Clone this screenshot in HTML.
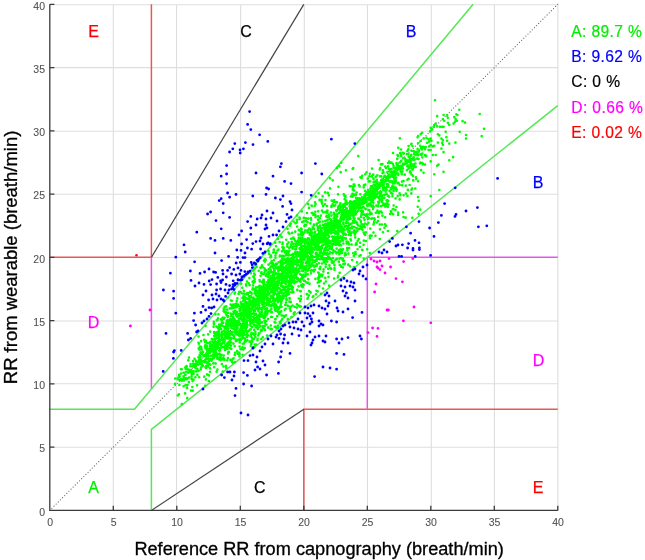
<!DOCTYPE html><html><head><meta charset="utf-8"><style>html,body{margin:0;padding:0;background:#fff;width:645px;height:560px;overflow:hidden}svg{display:block}text{font-family:"Liberation Sans",Arial,sans-serif}</style></head><body><svg width="645" height="560" viewBox="0 0 645 560"><rect width="645" height="560" fill="#fff"/><path d="M113.3 510.4V4.7M176.5 510.4V4.7M240.6 510.4V4.7M304.3 510.4V4.7M367.5 510.4V4.7M431.3 510.4V4.7M494.4 510.4V4.7M557.9 510.4V4.7M49.8 447.3H557.9M49.8 383.75H557.9M49.8 321H557.9M49.8 257.5H557.9M49.8 194.3H557.9M49.8 131.25H557.9M49.8 67.6H557.9M49.8 4.7H557.9" stroke="#dedede" stroke-width="1.1" fill="none"/><path d="M49.8 510.4L557.8 4.32" stroke="#6a6a6a" stroke-width="1.25" stroke-linecap="round" stroke-dasharray="0 3" fill="none"/><path d="M151.4 4.32L151.4 257.36L49.8 257.36" stroke="#ec5656" stroke-width="1.5" fill="none"/><path d="M303.8 510.4L303.8 409.18L557.8 409.18" stroke="#ec5656" stroke-width="1.5" fill="none"/><path d="M151.4 257.36L303.8 4.32" stroke="#444" stroke-width="1.2" fill="none"/><path d="M151.4 510.4L303.8 409.18" stroke="#444" stroke-width="1.2" fill="none"/><path d="M151.4 257.36L151.4 388.94" stroke="#e855e8" stroke-width="1.5" fill="none"/><path d="M367.3 409.18L367.3 257.36L557.8 257.36" stroke="#e855e8" stroke-width="1.5" fill="none"/><path d="M49.8 409.18L134.47 409.18L473.13 4.32" stroke="#55e855" stroke-width="1.5" fill="none"/><path d="M151.4 510.4L151.4 429.43L557.8 105.54" stroke="#55e855" stroke-width="1.5" fill="none"/><path d="M273.79 252.25h0M286.65 268.73h0M195.73 363.59h0M242.87 336.16h0M351.63 179.54h0M263.27 291.76h0M269.07 310.99h0M288.71 283.32h0M192.58 381.08h0M354.23 208.74h0M249.28 299.8h0M262.75 315.62h0M302.77 262.85h0M270.69 289.73h0M352.48 193.81h0M378.38 206.36h0M292.83 277.52h0M210.25 347.02h0M214.01 344.34h0M312.31 262.89h0M259.83 281.47h0M220.64 356.42h0M245.97 315.27h0M303.02 255.3h0M332.69 180.33h0M296.88 241.81h0M193.39 364.66h0M190.42 366.28h0M205.44 348.11h0M219.92 350.32h0M286.18 239.71h0M322.96 239.67h0M279.57 277.91h0M219.32 339.85h0M254.51 304.69h0M243.95 314.6h0M260.14 299.5h0M242.02 314.91h0M321.62 201.39h0M229.13 323.72h0M397.02 168.59h0M422.13 132.86h0M281.95 251.35h0M373.93 190.61h0M307.59 247.81h0M264.3 273.46h0M253.97 298.72h0M315.07 269.77h0M303.54 276.52h0M230.54 338.48h0M227.23 360.36h0M333.57 243.58h0M310.49 251.68h0M331.67 248.24h0M254.04 317.63h0M248.22 308.45h0M377.18 183.46h0M324.01 244.62h0M223.88 340.54h0M272.16 283.02h0M344.54 229.88h0M331.7 200.56h0M206.46 353.24h0M214.08 367.21h0M349.63 206.2h0M304.98 239.24h0M313.72 225.56h0M213.98 349.91h0M207.9 350.88h0M268 284.37h0M327.96 227.79h0M343.62 219.8h0M326.39 259.45h0M369.72 197.96h0M190.98 369.99h0M224.43 360.04h0M260.91 308.69h0M311.28 245.32h0M249.39 311.98h0M291.55 269.18h0M236.03 325.34h0M297.05 259.56h0M274.49 291.23h0M217.07 335.5h0M387.35 203.62h0M215.16 339.84h0M367.2 249.33h0M324.64 238.01h0M338.75 242.72h0M400.7 171.39h0M326.07 246.83h0M363.88 225.8h0M219.57 353.69h0M178.09 377.8h0M381.93 202.05h0M312.39 242.09h0M352.97 215.43h0M245.37 314.71h0M325.38 236.63h0M217.5 343.04h0M263.34 298.43h0M285.12 271.33h0M255.93 303.6h0M289.01 255.24h0M343.06 240.6h0M262.22 274h0M279.88 255.68h0M375.87 212.77h0M223.94 326.47h0M327.03 205.97h0M217.16 343.89h0M279.36 282.76h0M301.12 246.43h0M290.09 278.07h0M257.56 338.79h0M180.96 369.28h0M354.72 201.11h0M250.62 322.46h0M334.8 239.99h0M245.74 322.36h0M251.65 293.85h0M208.72 358.9h0M242.98 324.5h0M320.34 266.84h0M268.74 299.59h0M243.96 334.85h0M235.14 304.33h0M329.43 265.5h0M264.9 293.25h0M302.43 238.07h0M219.25 336.63h0M190.19 371h0M403.63 195.31h0M276.2 277.84h0M288.81 294.18h0M186.75 366.28h0M278.47 309.4h0M394.51 182.14h0M246.14 285.62h0M251.42 313.71h0M360.89 221.84h0M198.54 336.59h0M250.27 322.91h0M200.1 362.58h0M392.4 193.78h0M264.55 289.18h0M401.1 168.8h0M274.56 268.35h0M288.66 290.41h0M254.15 273.48h0M364.79 197.6h0M217.71 354.04h0M236.79 334.51h0M382.73 183.77h0M342.7 209.29h0M295.75 249.57h0M387.99 179.62h0M268.8 305.37h0M302.25 277.01h0M286.06 274.05h0M224.22 333.73h0M288.24 276.8h0M325.01 204.35h0M234.91 292.49h0M293.48 275.91h0M230.49 320.72h0M333.43 229.29h0M407.06 154.03h0M343.31 214.36h0M303.36 267.13h0M308.98 295.53h0M324.7 231.61h0M229.45 343.44h0M213.74 356.77h0M290.39 266.25h0M325.43 212.14h0M282.1 263.06h0M255.05 310.9h0M185.58 368.64h0M415.48 163.5h0M369.83 253.09h0M295.43 272.73h0M284.98 268.43h0M354.32 209.33h0M220.17 340.65h0M331.83 229.24h0M181.11 373.5h0M206.95 362.69h0M237.01 332.1h0M249.12 330.6h0M399.7 162.47h0M299.04 261.81h0M217.98 347.18h0M330.07 222.48h0M266.54 270.39h0M243.7 308.29h0M256.01 302.68h0M255.8 291.84h0M403.58 181.01h0M268.84 271.7h0M218.7 334.62h0M217.85 346.67h0M285.95 266.13h0M237.49 326.3h0M368.36 192.41h0M237.26 314h0M261.11 316.73h0M308.4 258.3h0M240.82 335.49h0M325.11 192.44h0M230.97 326.22h0M240.25 329.33h0M367.25 224.43h0M255.15 292.27h0M290.84 288.96h0M372.89 193.02h0M226.37 348.95h0M316.26 248.85h0M233.14 318.33h0M222.2 343.44h0M334.75 220.28h0M398.23 147.83h0M205.5 345.18h0M207.11 346.1h0M328.08 232.45h0M217.84 344.14h0M303.7 217.89h0M367.77 219.09h0M300.07 248.9h0M230.52 360.22h0M341.26 206.45h0M340.54 241.4h0M238.83 321.68h0M297.1 272.05h0M303.51 258.72h0M336.25 210.43h0M294.73 263.22h0M243.71 333.15h0M264.72 317.84h0M289.87 270.94h0M396.09 173.13h0M267.02 308.57h0M368.86 191.95h0M251.1 316.27h0M246.07 302.11h0M417.57 137.26h0M234.92 326.63h0M255.55 321.62h0M325.8 229.86h0M327.37 210.53h0M318.08 227.5h0M302.98 271.1h0M370.05 214.37h0M323.22 253.68h0M278.33 301.35h0M411.09 159.28h0M304.08 280.8h0M298.34 243.84h0M329.9 226.68h0M271.72 329.15h0M363.8 258.62h0M239.57 332.26h0M408.66 156.76h0M287.63 260.97h0M347.02 228.92h0M306.62 241.6h0M311.48 265.81h0M301.01 255.9h0M179.03 374.93h0M213.9 344.86h0M398.53 182.92h0M177.76 395.47h0M350.97 240.5h0M285.91 315.29h0M264.12 281.58h0M276.31 263.9h0M290.03 225.72h0M261.33 316.4h0M304.11 250.02h0M258.42 311.24h0M280.86 274.04h0M246.19 341.28h0M317.27 243.89h0M411.58 143.72h0M232.39 331.8h0M347.73 230.25h0M220.06 350.38h0M222.25 335.48h0M333.91 212.94h0M323.72 240.11h0M252.32 306.8h0M296.4 252.81h0M295.08 272.37h0M242.4 335.53h0M206.66 347.92h0M226.07 327.19h0M382.53 184.68h0M311.72 241.55h0M218.14 340.91h0M256.13 308.66h0M277.07 264.11h0M272.01 285.47h0M239.16 322.34h0M253.49 270.44h0M263.21 300.83h0M397.53 155.19h0M279.03 280.12h0M231.37 322.02h0M392.97 172.54h0M326.54 229.27h0M362.49 229.82h0M299.69 266.73h0M256.09 295.55h0M287.08 275.26h0M334.02 229.83h0M272.91 288.1h0M326.33 241.4h0M339.4 221.86h0M205.82 340.89h0M183.5 376.35h0M358.48 206.14h0M390.21 181.3h0M212.08 351.25h0M260.2 291.64h0M350.32 208.21h0M293.74 313.99h0M278.31 285.24h0M308.13 204.04h0M250.88 345.73h0M329.4 225.15h0M365.2 235.05h0M262.63 267.13h0M256.75 301.01h0M214.64 342.55h0M262.87 326.01h0M361.72 228.92h0M236.09 340.74h0M318.39 249.43h0M242.36 320.31h0M282.64 279.67h0M345.34 213.28h0M411.57 160.33h0M309.46 247.64h0M401.27 160.86h0M282.58 244.19h0M302.7 287.07h0M360.92 228.1h0M264.29 283.55h0M292.43 247.01h0M310.73 265.51h0M273.8 250.13h0M305.32 242.94h0M327.11 225.05h0M333.29 262.89h0M357.04 198.71h0M382.17 196.27h0M346.78 203.54h0M309.54 283.84h0M331.8 262.48h0M303.62 284.83h0M331.5 226.4h0M359.63 186.4h0M369.89 196.03h0M386.54 193.94h0M379.6 199.09h0M373.05 205.62h0M350.82 208.32h0M207.04 342.95h0M334.84 225.29h0M273.48 292.73h0M226.33 324.26h0M281.49 291.21h0M309.38 228.68h0M267.59 273.6h0M326.56 254.66h0M242.3 287.72h0M323.13 234.65h0M263.6 288.65h0M338.3 221.62h0M249.54 309.29h0M247.15 327.08h0M391.2 176.23h0M290.09 259.17h0M244.11 321.67h0M391.39 212.46h0M249.94 318.27h0M331.93 229.75h0M376.34 205.57h0M294.1 261.55h0M377.95 221.09h0M285.36 267.44h0M243.85 306.46h0M261.04 289.77h0M378.21 201.78h0M250.61 329.41h0M367.52 192.98h0M393.27 187.9h0M224.05 338.92h0M269.82 289.19h0M394.51 180.01h0M412.9 169.34h0M295.24 240.93h0M313.42 214.9h0M305.91 218.32h0M370.19 191.65h0M300.77 249.63h0M380.28 183.96h0M332.66 253.32h0M347.37 203.95h0M342.76 231.37h0M209.44 350.59h0M260.59 289.73h0M311.95 263.92h0M225.92 333.19h0M307.72 230.09h0M251.53 308.21h0M231.34 313.73h0M402.41 171.4h0M287.52 269.78h0M327.79 244.56h0M352.86 202.41h0M232.9 318.95h0M261.32 311.83h0M309.09 238.61h0M265.15 313.29h0M200.4 356.77h0M423.56 172.84h0M322.01 248.06h0M279.8 275.34h0M311.75 206.03h0M288.59 292.28h0M296.07 268.86h0M252.17 308.96h0M344.53 196.02h0M355.12 204.76h0M396.04 168.93h0M191.95 372.4h0M403.36 157.95h0M421.06 170.14h0M381.78 212.59h0M352.94 208.42h0M231.2 333.95h0M339.74 264.98h0M279.48 268.44h0M185.16 393.39h0M383.1 181.81h0M240.74 302.43h0M285.21 270.69h0M293.47 280.07h0M258.06 309.43h0M254.8 274.7h0M369.31 209.96h0M281.96 280.35h0M273.59 295.17h0M246.43 308.83h0M313.52 256.97h0M269.07 273.85h0M198.86 343.75h0M253.41 310.22h0M241.36 303.9h0M373.45 179.01h0M216.26 347.38h0M278.07 274.13h0M277.07 286.26h0M396.82 169.23h0M304.34 225.98h0M344.83 255.38h0M313.53 242.54h0M285.67 278.42h0M406.79 163.01h0M328.5 231.65h0M220.15 326.33h0M248.82 316.16h0M369.77 235.83h0M399.66 168.09h0M297.77 278.25h0M367 205.56h0M254.88 300.97h0M371.79 176.38h0M240.83 306.83h0M261.1 295.07h0M313.5 265.45h0M238.75 318.45h0M181.77 404.16h0M204.24 339.8h0M245.45 310.48h0M271.53 297.77h0M305.95 253.88h0M328.15 268.85h0M281.66 277.77h0M258.16 300h0M330.62 228.88h0M285.7 308.83h0M342.93 267.54h0M296.98 253.93h0M292.71 271.03h0M252.53 308.03h0M273.95 280.13h0M271.26 290.49h0M295.21 231.67h0M382.39 215.69h0M362.51 212.04h0M319.72 252.77h0M336.77 225.74h0M315.73 196.62h0M212.07 359.22h0M205.86 379.44h0M312.35 255.79h0M407.47 195.94h0M247.29 304.38h0M291.4 274.59h0M229.1 333.4h0M273.84 249.64h0M304.31 232.59h0M288.47 289.17h0M265 259.21h0M292.7 238.34h0M393.05 153.03h0M275.51 326.53h0M326.88 212.85h0M316.42 290.78h0M325.25 221h0M410.87 167.59h0M205.52 362.18h0M322.64 245.39h0M302.7 232.44h0M218.99 359.34h0M258.68 303.26h0M345.05 205.84h0M236.34 334.09h0M324.55 230.13h0M420.58 162.69h0M270.85 291.9h0M347.89 215.06h0M356.23 244.54h0M310.99 270.8h0M346.7 213.87h0M264.89 253.29h0M237.85 305.39h0M301.71 246.19h0M221.85 364.13h0M264.51 321.03h0M273.96 274.88h0M294.58 273.61h0M341.98 230.17h0M382.92 170.37h0M336.02 214.92h0M323.24 258.1h0M217.2 346.64h0M312.45 257.6h0M229.23 320.52h0M316.07 239.58h0M214.82 355.21h0M224.63 306.85h0M276.18 310.93h0M210.24 349.99h0M210.4 359.9h0M287.02 278.17h0M236.79 316.02h0M324.37 250.24h0M404.78 174.68h0M333.5 201.83h0M246.15 294.32h0M392.71 209.25h0M279.39 307.42h0M201.32 348.45h0M382.88 183.91h0M241.77 303.59h0M321.7 199.73h0M369.85 238.19h0M281.58 315.39h0M251.71 305.54h0M246.99 281.58h0M294.74 312.36h0M417.97 181.28h0M360.13 204.53h0M264.04 287.42h0M389.76 177.38h0M384.16 204.78h0M230.84 345.66h0M327.83 229.76h0M336.29 218.91h0M282.54 295.89h0M290.03 280.43h0M366.05 215.93h0M285.46 315.95h0M327.35 212.18h0M311.87 259.75h0M354.84 234.77h0M294.8 281.71h0M263.75 279.82h0M291.2 283.65h0M224.01 359.83h0M217.25 320.43h0M226.72 320.94h0M265.73 275.6h0M269.35 294h0M272.89 289.14h0M292.74 257.9h0M236.95 316.6h0M405.57 161.47h0M262.89 307.36h0M411.33 193.39h0M249.06 317.33h0M301.11 268h0M295.5 223.23h0M279.29 299.21h0M334.44 216.15h0M215.31 354.52h0M351.85 202.17h0M258.41 293.08h0M328.11 256.84h0M258.8 290.89h0M239.75 330.24h0M389.22 181.12h0M367.65 198.53h0M344.81 217.8h0M243.25 323.38h0M276 283.12h0M339.32 254.26h0M304.55 266.65h0M243.81 291.1h0M275.51 322.57h0M321.13 250.62h0M313.99 269.75h0M298.08 264.73h0M234.72 355.09h0M395.39 210.02h0M255.33 337.04h0M268.23 327.64h0M283.45 298.4h0M207.05 350.76h0M319.1 232.96h0M347.42 217.02h0M308.49 250.53h0M215.39 352.92h0M338.44 232.62h0M323.17 237.88h0M213.06 358.24h0M391.55 187.79h0M396.92 189.55h0M393.62 167.43h0M386.95 178.08h0M193.54 379.63h0M244.55 296.95h0M402.19 185.32h0M185.96 371.75h0M255.08 310.38h0M406.95 170.08h0M422.3 157.31h0M345.11 233.8h0M419.98 163.37h0M341.9 210.22h0M237.92 322.2h0M282.61 242.65h0M205.43 367.07h0M408.58 146.05h0M358.28 210.67h0M299.47 217.47h0M391.39 189.16h0M281.36 320.51h0M258.53 292.1h0M275.29 242.68h0M337.77 277.46h0M270.66 329.07h0M223.78 355.45h0M299.5 248.29h0M239.53 324.74h0M228.44 352.13h0M405.73 185.64h0M238.56 353.57h0M387.84 195.84h0M194.82 364.13h0M325.99 225.83h0M258.3 295.48h0M299.94 255.96h0M398.1 214.88h0M380.4 185.01h0M377.48 182.39h0M242.88 314.83h0M396.36 190.86h0M251.6 303.33h0M291.29 264.72h0M233.86 338.19h0M319.26 231.59h0M246.43 306h0M392.94 173.89h0M321.64 247.39h0M318.45 237.42h0M335.56 239.49h0M271.94 276.71h0M285.28 305h0M332.44 229.82h0M246.2 328.26h0M287.28 280.91h0M243.99 298.33h0M217.44 334.1h0M297.81 256.09h0M320.88 251.66h0M325.5 225.76h0M273.16 289.51h0M289.19 280.72h0M253.51 313.32h0M248.16 335.28h0M220.1 358.23h0M191.76 374.49h0M354.23 204.55h0M256.91 318.42h0M206.26 359.32h0M336.96 167.9h0M375.08 191.98h0M349.54 216.25h0M286.83 251.17h0M366.12 199.65h0M320.35 247.46h0M373.27 192h0M306.61 265.79h0M300 255.52h0M213.47 347.59h0M216.06 342.38h0M283.57 272.08h0M223.72 308.51h0M234.59 327.1h0M235.21 307.41h0M397.27 170.37h0M388.13 180.43h0M255.75 289.85h0M219.94 340.36h0M272.66 288.66h0M200.05 358.48h0M255.08 334.58h0M346.49 211.44h0M387.13 179.27h0M420.74 134.17h0M233.05 322.39h0M347.92 227.03h0M353.28 210.97h0M304.41 232.48h0M242.18 338.4h0M269.88 310.87h0M222.62 317.7h0M201.66 349.86h0M235.02 307.32h0M206.9 356.31h0M322.87 234.63h0M320.83 215.69h0M288.49 232.64h0M369.98 205.23h0M213.89 349.97h0M308.68 248.77h0M410.27 158.92h0M337.72 223.73h0M227.64 336.13h0M248.89 307.54h0M254.04 277.59h0M262.99 327.22h0M399.85 168.54h0M250.46 312.3h0M227.37 329.71h0M350.95 196.48h0M256.01 313.84h0M208.14 334.34h0M300.45 259.88h0M252.08 320.02h0M342.61 218.79h0M278.89 308.58h0M274.8 284.52h0M235.25 321.92h0M399.77 166.34h0M350.45 203.76h0M323.02 288.48h0M378.81 213.2h0M388.14 162.96h0M307.14 243.4h0M283.86 256.22h0M420.66 140.96h0M291.23 272.26h0M236.26 325.52h0M342.33 250.5h0M418.66 213.82h0M218.42 357.47h0M304.53 259.33h0M331.99 222.26h0M247.12 307.51h0M354.21 190.43h0M310.3 242.8h0M217.94 318.4h0M409.86 161.18h0M223.81 342.99h0M241.42 313.84h0M271.31 306.1h0M235.1 324.45h0M226.26 306.41h0M283.09 281.24h0M386.54 179.3h0M398.15 212.56h0M307.2 294.26h0M355.6 203.14h0M297.97 269.92h0M321.67 233.02h0M370.7 204.68h0M293.24 270.89h0M293.42 237.51h0M339.9 221.85h0M386.31 189.81h0M219.41 342.78h0M292.82 267.36h0M191.45 376.5h0M208.79 361.19h0M294.4 281.59h0M391.2 176.08h0M400.82 166.72h0M383.47 183.66h0M277.83 238.93h0M346.62 243.43h0M292.07 263.13h0M301.53 266.2h0M271.49 305.13h0M272.08 295.88h0M258.81 307.88h0M354.52 185.83h0M205.89 348.12h0M397.5 183.36h0M326.04 241.8h0M375.36 184.6h0M349.98 266.33h0M314.47 235.63h0M340.51 228.47h0M369.99 196.33h0M321.14 251.73h0M398.35 168.44h0M231.21 316.1h0M327.97 230.55h0M415.79 151.97h0M338.06 209.19h0M403.14 163.46h0M298.78 298.51h0M318.8 256.07h0M287.26 244.3h0M217.39 369.56h0M270.72 281.58h0M384.93 224.24h0M369.12 218.25h0M360.14 242.8h0M249.32 298.49h0M237.5 322.63h0M393.45 209.12h0M270.46 278.27h0M302.03 256.82h0M236.57 329.64h0M256.46 322.05h0M298.75 237.93h0M257.37 323.32h0M365.82 232.44h0M284.59 272.62h0M220.17 328.17h0M223.45 366.48h0M341.33 228.24h0M304.16 254.02h0M248.48 293.22h0M293.36 259.65h0M328.88 195.33h0M229.86 333.37h0M373.67 192.07h0M331.67 227.09h0M273.93 264.94h0M306.06 240.55h0M373.43 178.69h0M277.32 295.2h0M225.92 347.21h0M377.48 183.06h0M296.7 264.27h0M277.21 278.4h0M385.84 179.5h0M263.99 295.45h0M319.79 231.29h0M208.95 343.16h0M353.44 216.35h0M393.15 214.24h0M308.86 257.05h0M394.57 175.28h0M272.09 292.4h0M234.66 332.23h0M331.16 224.62h0M259.52 321h0M231.25 322.65h0M250.78 318.77h0M297.82 244.91h0M322.57 253.27h0M268.43 283.81h0M399.65 169.18h0M387.4 201.67h0M244.73 319.34h0M324.14 262.31h0M303.72 253.45h0M230.62 313.59h0M276.14 327.47h0M305.56 272.49h0M296.42 260.96h0M290.83 269.62h0M232.17 359.62h0M362.04 197.34h0M273.22 300.66h0M331.01 248.14h0M269.94 286.83h0M354.74 214.65h0M256.99 300.5h0M291.15 271.25h0M342.79 208.27h0M316.21 240.12h0M203 365.46h0M263.17 292.7h0M331.19 227.83h0M277.37 308h0M261.54 314.77h0M376.03 190.1h0M275.2 319.37h0M285.16 262.88h0M311.44 246.91h0M399.7 184.97h0M381.93 185.44h0M253.77 301.08h0M362.67 210.76h0M215.45 314.34h0M242.55 334.07h0M348.43 253.59h0M256.5 295.66h0M236.66 329.21h0M194.57 358.71h0M264.18 284.06h0M399.28 166.95h0M316.87 253.42h0M260.67 299.65h0M296 248.98h0M330.96 231.43h0M376.49 186.64h0M235.07 324.15h0M259.07 308.15h0M290.09 271.91h0M359.13 206.37h0M308.47 247.33h0M300.87 255.8h0M242.24 314.87h0M351.74 210.08h0M339.52 223.36h0M349.43 217.53h0M397.67 196.03h0M321.76 276.19h0M386.72 183.88h0M200.1 363.72h0M324.66 251.93h0M209.32 349.63h0M275.46 265.88h0M300.81 262.69h0M309.7 240.29h0M346.28 202.14h0M249.59 285.16h0M318.71 238.12h0M237.14 328.02h0M309.99 259.53h0M277.75 302.14h0M287.58 289.66h0M211.86 349.02h0M308.05 282.91h0M406.4 160h0M309.64 244.32h0M305 225.06h0M247.42 302.6h0M354.4 209.44h0M266.94 299.72h0M319.74 238.18h0M242.63 314.11h0M302.38 246.88h0M299.72 217.88h0M205.13 385.88h0M259.64 314.01h0M308.6 264.11h0M371.72 186.31h0M326.63 253.93h0M395.39 174.89h0M253.3 276.61h0M228.18 321.69h0M393.57 165.91h0M187.51 385.09h0M289.39 250.79h0M374.1 221.88h0M317.35 244.92h0M270.3 257.33h0M380.01 211.48h0M348.83 212.82h0M394.64 171.42h0M275.4 287.34h0M291.02 238.76h0M289.56 268.3h0M181.73 369.24h0M353.13 220.86h0M343.23 232.23h0M296.94 273.38h0M274.49 306.83h0M205.64 325.81h0M316.19 254.5h0M213.49 358h0M227.89 312.9h0M300.9 249.55h0M354.45 231.54h0M325.31 277.89h0M236.52 324.75h0M203.08 352.03h0M354.32 230.4h0M292.13 232.94h0M289.69 266.18h0M407.38 179.75h0M351.59 223.55h0M343.99 260.76h0M291.42 260.92h0M336.78 258.91h0M250.24 329.46h0M280.62 305.36h0M325.8 231.43h0M222.14 347.11h0M330.17 224.75h0M244.68 341.94h0M270.62 266.74h0M258.97 317.95h0M409.78 165.6h0M317.7 226.58h0M207 349.07h0M405.65 161.63h0M199.91 346.59h0M312.44 260.29h0M248.65 304.1h0M389.21 196.77h0M264.29 290.48h0M261.06 272.74h0M321.98 210.65h0M253.06 314.02h0M328.54 276.91h0M322.15 203.56h0M377.13 194.14h0M318.14 211.32h0M289.27 271.65h0M398.91 169.19h0M301.71 229.43h0M286.61 294.94h0M311.71 251.95h0M282.14 265.93h0M341.07 230.23h0M271.2 276.46h0M237.88 325.1h0M280.54 275.85h0M309.99 233.17h0M187.34 378.69h0M267.06 335.54h0M375.36 195.85h0M260.06 300.71h0M281.08 265.57h0M375.27 181.67h0M380.85 164.32h0M205.04 355.09h0M310.92 256.63h0M395.18 177.52h0M396.49 206.95h0M293.59 246.27h0M238.26 321.42h0M241.29 334.67h0M253.86 339.12h0M237.57 353.67h0M398.24 174.87h0M281.36 267.93h0M227.42 333.41h0M203.9 360.96h0M257.26 319.44h0M272.92 286.27h0M257.95 305.02h0M287.12 273.98h0M311.39 236.18h0M275.55 305.36h0M361.22 201.67h0M389.58 181.63h0M327.42 246.32h0M392.79 186.96h0M210.44 343.7h0M241.1 303.86h0M296.58 242.97h0M235.82 341.09h0M358.9 185h0M396.54 163.16h0M300.45 251.26h0M341.8 228.07h0M382.42 164.16h0M309.04 291.13h0M258.84 303.84h0M401.62 167.49h0M353.45 211.14h0M303.08 259.35h0M325.77 264.21h0M303.33 260.02h0M315.57 217.14h0M240.4 330.31h0M270.51 267.47h0M323.12 225.01h0M266.96 313.39h0M412.62 164.46h0M238.85 323.62h0M350.24 228.42h0M346.67 214.37h0M305.45 250.83h0M396 173.12h0M356.15 198.16h0M317.24 242.05h0M248.35 302.49h0M315.4 246.48h0M319.78 259.35h0M363.76 232.51h0M211.68 346.11h0M350.34 212.87h0M395.58 198.43h0M360.53 220.51h0M279.55 296.94h0M346.52 241.52h0M258.98 303.24h0M233.38 317.04h0M276.37 327.88h0M296.1 244.73h0M305.03 243.48h0M383.85 186.79h0M284.77 286.75h0M228.68 335.91h0M341.26 238.17h0M254.13 301.99h0M343.3 223.8h0M280.7 255.72h0M375.24 190.65h0M336.63 211.27h0M306.32 254.24h0M252.96 321.75h0M374.97 198.3h0M235.38 312.48h0M260.96 296.93h0M362.47 203.92h0M308.26 245.41h0M376.2 187.05h0M227.77 346.64h0M318.19 237.51h0M218.24 326.97h0M221.99 333.28h0M215.38 339.32h0M343.73 215.44h0M420.18 145.76h0M338.92 261.63h0M210.39 345.31h0M299.5 271.47h0M271.78 304.76h0M279.77 323.2h0M315.83 253.54h0M282.83 266.91h0M344.92 210.16h0M268.05 311.14h0M344.52 225.7h0M190.15 371.37h0M413.65 157.37h0M336.38 253.33h0M296.57 246.8h0M383.38 203.49h0M323.86 227.68h0M312.76 297.09h0M373.61 185.05h0M273.19 267.61h0M310.85 218.21h0M280.85 292.89h0M197.39 374.91h0M242.38 347.23h0M258.37 309.7h0M346.7 208.37h0M316.83 265.68h0M231.46 320.9h0M324.35 241.16h0M208.45 375.08h0M281.6 274.18h0M268.1 327.54h0M288.97 264.41h0M255.33 308.73h0M253.17 339.08h0M252.5 270.62h0M281.33 266.49h0M315.27 211.82h0M258.75 327.23h0M346.04 217.3h0M339.32 226.87h0M231.14 332.09h0M214.79 345.16h0M227.89 358.06h0M247.14 337.08h0M238.6 305.71h0M309.24 247.31h0M271.34 309.16h0M273.85 277.82h0M313.46 248.29h0M319.48 268.75h0M316.75 235.34h0M275.24 288.34h0M294.59 278.35h0M236.76 300.81h0M320.7 230.98h0M284.23 263.12h0M255.09 305.86h0M294.29 257.61h0M309 207.89h0M389.45 190.83h0M368.09 193.85h0M281.49 306.91h0M417.59 148.99h0M246.37 303.69h0M243.8 308.23h0M334.12 228.61h0M301.33 239.23h0M350.44 239.22h0M197.87 361.46h0M363.51 199.43h0M244.16 317.68h0M255.45 299.62h0M267.15 282.27h0M370.19 228.56h0M286.87 269.92h0M208.64 364.09h0M214.53 339.48h0M291.72 269.08h0M254.16 319.04h0M273.86 271.98h0M237.37 298.24h0M346.75 212.25h0M364.27 234.04h0M195.41 377.25h0M227.07 322.62h0M350.73 235.25h0M291.58 262.71h0M259.68 285.73h0M335.52 220.35h0M226.32 323.22h0M201.22 364.22h0M359.03 208.51h0M248.13 331.2h0M295.84 243.88h0M407.84 189.93h0M414.43 154.35h0M324.65 259.59h0M284.12 290.03h0M195.95 365.85h0M281.26 286.16h0M282.37 267.85h0M325.85 232.18h0M287.64 268.19h0M371.54 201.54h0M353.17 207.81h0M289.13 263.22h0M258.96 309.17h0M257.53 287.29h0M418.84 151.43h0M418.02 197.07h0M319.22 228.01h0M253.49 301.5h0M321.87 238.12h0M357.01 211.84h0M224.88 349.6h0M315.7 247.09h0M329.82 253.47h0M314.5 242.27h0M304.43 255.67h0M188.91 382.04h0M283.3 259.72h0M332.8 244.71h0M274.89 310.29h0M211.25 350.56h0M319.54 199.92h0M210.63 359.01h0M255.46 299.57h0M347.07 248.08h0M360.7 227.08h0M242.67 318.96h0M207.1 374.46h0M247.6 324.78h0M287.52 228.85h0M229.94 332.21h0M319.74 255.38h0M317.87 244.13h0M252.93 305.06h0M327.79 219.75h0M382.96 188.65h0M286.44 299.84h0M354.16 211.1h0M370.94 192.9h0M318.36 278.97h0M324.16 232.98h0M235.05 352.86h0M408.59 161.04h0M374.78 219.53h0M359.25 203.47h0M224.82 309.22h0M422.35 163.04h0M390.81 211.22h0M230.1 340.51h0M325.48 200.11h0M339.99 204.99h0M274.59 322.36h0M303.46 255.61h0M222.77 317.84h0M365.08 196.72h0M334.63 214.23h0M331.35 226.16h0M292.29 271.48h0M375.2 189.68h0M256.44 319.76h0M252.49 289.55h0M384.98 180.43h0M327.12 252.82h0M380.25 168.03h0M259.26 324.94h0M284.68 259.28h0M286.08 296.16h0M304.96 268.69h0M274.63 326.8h0M197.09 385.36h0M286.09 259.88h0M401.31 156.09h0M229.09 321.23h0M263.6 317.98h0M309.47 265.44h0M259.49 297.78h0M329.99 228.89h0M219.15 341.36h0M302.82 275.24h0M260.54 291.56h0M282.23 269.06h0M382.21 200.28h0M271.83 278.59h0M380.07 200.29h0M345.47 197.41h0M306.13 251.01h0M230.63 325.35h0M249.79 319.03h0M306.01 274.56h0M286.29 273.13h0M370.63 188.57h0M288.6 283.86h0M181.8 380.79h0M364.69 197.97h0M258.71 270.84h0M264.61 292.92h0M373.32 202.73h0M335 225.44h0M369.1 194.29h0M208.9 375.52h0M303.44 249.26h0M280.94 261.74h0M290.57 306.92h0M235.8 305.16h0M179.53 376.69h0M320.53 239.74h0M241.59 326.01h0M265.04 315.61h0M254.64 279.16h0M313.95 260.54h0M375.44 190.18h0M317.09 243.18h0M243.42 335.59h0M357.5 249.22h0M330.25 252.41h0M341.14 216.83h0M231.64 326.83h0M267.13 303.4h0M322.71 235.88h0M377.77 187.18h0M237.79 325.52h0M333.23 239.17h0M268.42 293.26h0M245.94 334.77h0M269.37 299.96h0M230.5 326.53h0M302.39 264.04h0M259.6 319.78h0M379.27 186.6h0M223.75 310.48h0M284.15 278.32h0M280.63 260.73h0M336.19 233.41h0M241.91 349.27h0M330.29 219.35h0M388.18 200.91h0M266.67 298.58h0M368.44 222.8h0M320.81 231.1h0M331.07 233.5h0M245.44 308.55h0M256.9 290.58h0M326.43 244.76h0M385.28 166.64h0M297.27 262.13h0M331.02 212.47h0M317.93 242.25h0M312.67 252.16h0M383.52 185.25h0M233.2 323.09h0M336.22 219.89h0M386.52 200.47h0M274.19 271.38h0M320.26 235.89h0M312.51 213.04h0M363.93 185.33h0M254.07 318.46h0M386.06 178.58h0M381.08 211.57h0M256.87 322.17h0M260.97 296.46h0M267.6 299.89h0M328.67 256.81h0M221.77 336.71h0M202.19 354.19h0M266.41 324.46h0M242.28 305.69h0M372.9 192.68h0M380.92 185.51h0M365.29 174.21h0M355.75 244.66h0M332.93 232.53h0M334.33 221.45h0M353.56 204.91h0M383.26 187.36h0M270.64 305.22h0M399.87 138.35h0M289.62 282.62h0M281.91 263.27h0M409.8 158.94h0M278.83 281.93h0M300.59 265.46h0M255.37 303.57h0M342.81 258.69h0M218.77 330.27h0M229.49 335.69h0M232.15 333.23h0M341.48 215h0M187.21 398.12h0M235.36 326.44h0M253.3 319.77h0M387.73 207.04h0M333.78 261.82h0M301.46 275.06h0M242.24 293.45h0M280.59 323.32h0M298.63 261.07h0M405.66 217.65h0M352.75 204.59h0M252.56 281.81h0M338.43 240.09h0M238.45 339.56h0M376.34 188.46h0M422.82 164.15h0M183.62 379.75h0M298.67 305.48h0M188.99 357.62h0M413.26 180.42h0M253.11 285.39h0M290.62 310.91h0M296.93 219.93h0M291.43 271.76h0M233.44 328.86h0M401.11 149.51h0M311.91 235.45h0M412.92 175.88h0M385.52 191.42h0M381.03 194.27h0M197.2 362.91h0M392.85 187.52h0M278.46 249.53h0M284.05 293.37h0M335.96 225.06h0M342.94 237.86h0M193.45 373.96h0M307.97 241.69h0M244.43 311.98h0M323.91 239.22h0M282.37 269.15h0M327.75 235.15h0M243.34 349.47h0M326.7 216.15h0M333.8 213.9h0M320.93 239.06h0M256.17 302.96h0M247.39 317.1h0M421.98 149.43h0M248.97 296.44h0M214.35 333.33h0M319.43 277.29h0M237.78 334.67h0M333.57 244.25h0M270.98 255.53h0M306.88 243.16h0M242.61 337.82h0M346.08 217.16h0M308.47 269.85h0M392.88 172.05h0M275.63 319.12h0M258.55 286.45h0M336.3 243.46h0M387.94 230.97h0M335.03 225.94h0M330.44 232.05h0M294.38 283.32h0M348.86 234.85h0M291.54 316.97h0M287.78 268.92h0M262.19 329.51h0M328.86 225.16h0M349.91 211.66h0M354.69 210.36h0M373.9 189.93h0M365.66 209.13h0M244.94 300h0M313.99 245.22h0M366.99 192.79h0M264.45 268.3h0M213.94 354.9h0M310.95 241.23h0M182.3 379.5h0M215.39 348.74h0M217.33 358.72h0M242.18 329.35h0M318.47 239.88h0M303.98 255.6h0M293.43 292.17h0M283.45 315.77h0M381.07 180.29h0M321.1 293.78h0M323.18 237.59h0M277.16 290.83h0M282.23 319.02h0M303.7 221.41h0M241.14 334.23h0M286.14 260.34h0M228.79 333.96h0M357.86 228.73h0M287.86 258.25h0M292.88 271.76h0M285.75 284.11h0M371.64 187.23h0M327.69 245.45h0M311.69 239.76h0M351.05 213.6h0M343.77 194.24h0M363.68 187.39h0M300.93 299.19h0M269.71 284.83h0M227.1 329.11h0M370.97 193.79h0M352.43 211.08h0M386.51 180.71h0M282.41 274.05h0M353.81 256.03h0M298.97 261.5h0M280.17 278.47h0M416.92 151.8h0M261.56 272.29h0M231.89 306.66h0M242.25 331.8h0M295.33 246.28h0M315.71 253.67h0M324.04 226.59h0M332.23 231.92h0M251.37 321.1h0M325.92 261.41h0M210.38 364.6h0M318.68 222.57h0M273.02 298.42h0M312.69 238.6h0M329.42 265.21h0M276.67 310.78h0M241.72 313.44h0M314.21 235.55h0M336.61 222.53h0M297.45 261.59h0M224.54 341.63h0M322.7 235.87h0M308.39 279.28h0M269.26 275.22h0M386.62 189.77h0M357.24 198.26h0M289.88 308.67h0M375.6 191.22h0M203.52 361.94h0M301.9 286.37h0M305.35 247.13h0M379.08 196.56h0M323.6 269.29h0M341.94 237.27h0M374.26 218.34h0M188.29 360.4h0M234.62 293.56h0M388.19 184.35h0M225.45 344.94h0M320.07 225.62h0M372.03 168.61h0M343.05 249.28h0M364.24 200.62h0M263.92 298.44h0M407.73 160.46h0M334.4 225.42h0M348.64 219.58h0M344.87 226.66h0M387.76 178.3h0M316.04 237.67h0M271.67 312.18h0M347.49 211.34h0M249.4 320.85h0M240.87 309.22h0M226.76 347.49h0M295.88 274.54h0M384.28 182.16h0M357.44 206.75h0M296.76 271.73h0M335.17 221.02h0M356.52 228.4h0M310.33 223.31h0M200.98 346.8h0M298.67 244.44h0M305.98 246.6h0M253.09 307.25h0M392.04 187.44h0M306.17 255.27h0M349.52 228.33h0M341.77 237.83h0M192.73 390.67h0M293.95 313.03h0M223.64 311.08h0M416.31 178.97h0M275.44 282.4h0M253.06 300.25h0M310.77 250.62h0M338.26 275.8h0M220.28 348.51h0M263.23 273.97h0M366.73 192.33h0M260.75 295.63h0M350.73 223.94h0M321.72 231.8h0M294.35 281.04h0M208.91 381.02h0M254.88 320.3h0M280.04 296.04h0M317.65 291.43h0M228.62 321.56h0M279.1 312.03h0M348.36 242.29h0M373.53 232.5h0M388.21 186.86h0M307.9 238.21h0M357.02 262.39h0M251.28 334.27h0M300.47 281.68h0M309.93 229.16h0M319.7 241.76h0M265.2 295.22h0M418.98 150.44h0M359.88 246.72h0M326.66 238.62h0M375.17 191.91h0M329.6 241.09h0M275.82 263.83h0M335.43 218.49h0M395.62 187.57h0M317.78 258.81h0M248.22 316.47h0M385.15 206.58h0M263.63 328.3h0M331.58 249.23h0M308.44 248.73h0M324.9 237.19h0M246.17 327.88h0M250.03 291.94h0M384.1 181.32h0M405.14 163.97h0M339.84 205.74h0M244.67 309.34h0M310.59 292.57h0M268.47 264.61h0M277.18 277.36h0M388.53 196.12h0M286 273.56h0M321.83 258.82h0M330.41 267.74h0M307.64 248.31h0M352.78 189.73h0M345.95 223.01h0M412.35 169.35h0M412.51 146.12h0M335.18 251.62h0M228.99 337.94h0M369.24 203.66h0M355.46 251.95h0M373.19 174.65h0M379.77 169.39h0M363.13 201.52h0M307.68 270.78h0M249.27 306.08h0M247.18 324.7h0M392.49 185.98h0M239.71 342.54h0M340.55 218.63h0M245.2 325.78h0M287.74 289.24h0M361.11 204.2h0M308.55 262.59h0M288.22 273.83h0M221.62 333.76h0M346.25 208.93h0M308.53 263.84h0M304.21 256.88h0M338.21 223.71h0M253.87 302.33h0M265.02 329.88h0M250.24 323.36h0M282.35 298.68h0M268.05 289.98h0M187.62 369.43h0M356.57 192.5h0M307.81 259.78h0M340.49 249.42h0M233.03 304.51h0M411.61 150.75h0M191.63 378.87h0M282.28 297.64h0M261.61 302.5h0M286.47 255.08h0M277.95 273.49h0M201.12 359.63h0M258.59 315.22h0M307.49 269.44h0M258.6 287.37h0M349.53 231.41h0M260.37 323.01h0M262.18 281.89h0M255.18 318.25h0M175.22 378.46h0M364.45 195.18h0M225.92 365.85h0M277.5 296.57h0M278.27 312.28h0M292.5 289.89h0M245.74 303.16h0M265.71 287.82h0M343.04 217.6h0M331.73 248.24h0M239.72 311.13h0M350.36 209.58h0M313.1 243.8h0M255.62 327.25h0M243.12 300.81h0M300.45 244.41h0M272.21 280.54h0M204.78 355.46h0M354.71 206.79h0M363.67 201.27h0M307.68 231.29h0M315.54 265.68h0M322.52 274.76h0M268.08 277.18h0M267.78 311.09h0M305.31 276.37h0M392.49 176.08h0M381.74 196.67h0M311.24 252.86h0M294.98 273.3h0M297.29 289.89h0M200.88 361.41h0M255.38 304.76h0M378.68 202.3h0M240.99 339.72h0M379.28 187.22h0M367.59 217.17h0M291.93 292.23h0M261.55 287.02h0M233.78 307.73h0M329.14 285.69h0M213.51 343.54h0M283.99 275.44h0M413.67 151.16h0M244.39 293.71h0M311.68 248.97h0M280.54 275.79h0M278.38 299.02h0M266.01 290.42h0M261.97 265.27h0M385.18 217.36h0M292.21 266.8h0M295.45 281.98h0M250.91 273.24h0M283.22 289.45h0M279.18 273.71h0M316.66 224.82h0M318.93 281.04h0M292.43 277.66h0M386.46 193.95h0M298.2 240.23h0M315.26 239.24h0M371.08 192.12h0M227.5 342.83h0M298.59 286.33h0M339.95 208.36h0M286.85 292.73h0M209.99 346.79h0M380.11 196.08h0M240.05 333.54h0M296.92 278.76h0M260.04 289.4h0M254.73 268.61h0M228.22 316.29h0M332.68 204.25h0M415.3 188.53h0M270.45 282.86h0M275.54 257.71h0M279.69 280.03h0M327.8 240.89h0M242.96 325.53h0M268.51 293.04h0M263.15 286.57h0M378.97 202.25h0M288.58 252.72h0M231.43 324.4h0M198.56 370.96h0M332.64 261.66h0M238.58 331.56h0M314.19 244.24h0M273.49 281.6h0M269.56 272.79h0M380.05 176.35h0M307.55 222.13h0M213.6 341.76h0M360.65 255.23h0M241.55 312.91h0M256.98 319.78h0M306.16 225.19h0M243.95 303.88h0M263.97 296.13h0M301.75 211.41h0M394.78 180.09h0M253.41 347.25h0M203.46 335.03h0M216.73 346.84h0M386.04 167.9h0M258.31 292.51h0M332.62 241.07h0M316.55 265.73h0M373.55 188.4h0M247.31 303.69h0M220.11 343.37h0M227.45 336.14h0M281.59 290.77h0M199.71 354.89h0M337.28 214.26h0M353.31 186.63h0M384.98 176.69h0M230.64 304.58h0M399.65 199.43h0M343.91 206.13h0M422.32 153.46h0M362.52 250.06h0M186.54 366.09h0M238.99 352.55h0M406.45 162.69h0M251.35 292.95h0M233.6 325.76h0M302.33 261.18h0M331.47 206.89h0M310.26 266.98h0M344.08 214.33h0M247.85 312.42h0M278.73 292.5h0M353.03 188.23h0M253.4 301.12h0M291.3 292.24h0M192.57 372.56h0M227.19 326.03h0M372.06 195.95h0M337.49 227.41h0M271.74 261.28h0M388.87 174.68h0M357.79 205.56h0M286.26 266.05h0M366.88 215.19h0M261.37 291.48h0M227.46 349.01h0M326.88 245.09h0M418.58 158.96h0M384.47 194.9h0M357.25 207.19h0M246.85 323.11h0M347.25 213.77h0M233.3 321.26h0M237.03 321.11h0M280.36 292.42h0M275.48 293.46h0M335.56 259.85h0M328.49 258.56h0M216.78 320.13h0M349.59 202.7h0M343.37 235.11h0M228.43 328.41h0M334.48 269.67h0M304.57 251.47h0M236.49 325.4h0M281.56 261.49h0M361.7 199.91h0M355.86 231.96h0M297.11 215.48h0M257.72 329.16h0M249.53 319.02h0M257.43 307.76h0M394.02 171.27h0M332.65 236.46h0M370.53 194.49h0M315.05 235.71h0M421.36 155.01h0M257.79 320.47h0M299.48 252.54h0M253.33 317.16h0M308.11 247.53h0M227.09 328.3h0M291.98 279.32h0M326.06 227.1h0M213.51 354.38h0M273.02 284.02h0M219.84 350.66h0M291.24 255.13h0M386.75 176.75h0M377.77 211.54h0M250.59 336.32h0M238.22 304.54h0M247.44 317.65h0M243.59 322.49h0M256.11 314.42h0M189.98 371.5h0M321.64 253.3h0M268.37 294.85h0M222.33 335.75h0M275.96 273.41h0M311.84 237.59h0M387.2 179.66h0M250.52 300.56h0M243.11 315.54h0M247.19 310.22h0M282.56 255.9h0M285.62 262.25h0M330.16 258.1h0M317.76 229.93h0M392.57 173.91h0M363.09 197.99h0M343.03 213.48h0M253.92 325.18h0M218.99 332.4h0M260.18 296.85h0M359.12 202.84h0M408.3 149.43h0M189.05 377.49h0M231.18 342.4h0M318.18 277.76h0M381.1 206.06h0M282.62 274.68h0M277.14 283.2h0M311.57 259.6h0M310.15 244.23h0M194.32 366.99h0M417.21 158.64h0M308.28 261.02h0M323.13 212.29h0M225.06 335.16h0M360.41 198.94h0M236.11 327.72h0M225.59 332.12h0M305.73 243.51h0M318.63 193.23h0M210.61 355.7h0M306.27 246.64h0M291.92 270.11h0M309.79 234.75h0M325.65 230.11h0M306.52 267.09h0M242.51 307.55h0M322.24 242.13h0M220.88 339.58h0M267.5 297.64h0M358.52 205.05h0M392.41 196.25h0M340.96 225.42h0M241.73 319.15h0M316.63 260.97h0M353.86 267.15h0M349.76 186.19h0M271.35 312.22h0M384.42 227.72h0M378.63 160h0M373.57 182.13h0M341.2 162.76h0M350.66 211.04h0M326.7 215.89h0M217.84 346.1h0M237.78 333.07h0M290.82 284.22h0M261.34 294.7h0M379.69 185.4h0M402.02 181.58h0M332.11 224.16h0M330.78 248.28h0M290.07 268.61h0M341.11 258.02h0M322.59 245.46h0M333.47 250.41h0M282.23 271.81h0M193.54 372.91h0M244.72 348.12h0M296.23 277.28h0M317.72 282.59h0M302.99 277.8h0M410.7 173.05h0M370.11 181.26h0M254.61 334.47h0M280.27 235.09h0M379.92 229.32h0M359.48 201.08h0M242.62 310.21h0M233.18 314.17h0M205.3 355.89h0M325.95 244.07h0M253.77 321.66h0M327.19 225.25h0M335.56 223.09h0M198.66 348.47h0M239.23 291.93h0M383.74 188.68h0M216.8 346.38h0M274.48 301.24h0M370.96 200.04h0M320.6 274.65h0M284.33 289.92h0M231.5 328.27h0M266.15 296.19h0M375.44 186.25h0M321.12 256.87h0M273.88 294.26h0M256.46 298.73h0M323.75 254.2h0M349.36 225.33h0M362.17 175.74h0M363.8 240.69h0M313.75 271.55h0M354.11 219.17h0M281.86 293.31h0M263.59 286.28h0M234.16 338.07h0M297.22 281.53h0M334.43 265.26h0M281.98 297.96h0M313.64 242.33h0M243.78 317.71h0M336.88 225.54h0M400.11 167.39h0M309.62 261.91h0M284.98 281.4h0M205.97 354.43h0M328.56 235.52h0M387.37 172.05h0M270.18 272.02h0M237.01 314.43h0M295.28 268.63h0M274.79 287.98h0M296.82 307.61h0M236.9 324.05h0M400.07 153.1h0M363.25 200.15h0M212.23 339.44h0M266.29 275.76h0M373 209.04h0M310.9 264.9h0M268.05 318.97h0M275.64 285.37h0M339.67 272.7h0M343.33 222.67h0M344.05 216.06h0M327.69 229.92h0M236.33 315.5h0M304.28 245.66h0M297.04 265.77h0M206.19 366.15h0M389.69 163.05h0M233.25 305.59h0M306.44 252.83h0M250.82 311.24h0M385.92 179.54h0M338.43 186.85h0M243.96 308.56h0M319.09 275.65h0M396.14 177.49h0M195.54 367.85h0M387.81 176.95h0M309.79 233.14h0M273.67 305.4h0M202.4 366.18h0M243.96 334.17h0M273.66 250h0M304.96 275.42h0M375.7 176.86h0M275.41 307.28h0M392.78 183.56h0M337.02 202.17h0M236.24 327.36h0M364.78 197.5h0M318 216.21h0M297.5 264.99h0M374.14 191.06h0M224 358.61h0M403.53 217.02h0M353.43 231.81h0M258.23 297.7h0M235.72 323.58h0M201.13 341.18h0M400.74 154.62h0M394.11 187.57h0M335.51 202.2h0M335.09 224.91h0M223.93 309.29h0M367.4 199.01h0M376.56 189.53h0M218.13 328.18h0M273.26 252.54h0M214.01 324.21h0M256.17 265.11h0M292.57 268.68h0M342.18 218.81h0M291.98 280.52h0M313.91 224.68h0M217.23 337.97h0M261.74 293.2h0M300.69 238.63h0M355.93 204.79h0M352.01 206.06h0M232.01 362.07h0M402.91 165.12h0M190.82 372.23h0M267.79 289.13h0M372.18 218.27h0M243.2 316.01h0M303.3 254.59h0M300.92 295.99h0M302.17 221.99h0M243.76 331.8h0M285.73 260.32h0M298.55 234.68h0M317.11 255.75h0M268.31 280.28h0M379.82 239.12h0M305.55 253.17h0M378.61 184.32h0M223.85 318.81h0M233.03 306.89h0M344.06 219.24h0M374.84 191.43h0M295.28 275.49h0M390.95 172.53h0M266.58 285.97h0M235.1 323.45h0M312.72 227.21h0M257.89 292.19h0M326.1 234.88h0M248.69 308.51h0M324.42 229.7h0M235.2 322.01h0M290.97 275.94h0M313.44 295.96h0M363.85 203.36h0M387.83 179.21h0M352.45 196.69h0M280.85 264.37h0M290.53 262.86h0M309.85 266.12h0M375.11 190.12h0M224.01 346.95h0M265.1 302.97h0M242.16 314.59h0M328.24 217.15h0M370.37 195.03h0M252.3 327.24h0M319.39 239h0M215.64 341.77h0M265.01 325.68h0M341.16 227.51h0M418.7 200.71h0M239.54 346.54h0M393.48 186.52h0M280.17 298.88h0M373.99 198.07h0M331.37 206.02h0M354.11 207.66h0M236.57 340.92h0M265.7 290.08h0M259.83 320.11h0M298.28 260.86h0M287.47 262.26h0M372.1 188.45h0M282.71 274.06h0M244.43 316.37h0M261.99 322.39h0M279.15 313.93h0M290.17 279.83h0M274.37 286.44h0M336.36 225.02h0M301.14 264h0M265.17 298.42h0M311.16 219.7h0M321.41 239.92h0M272.23 281.76h0M324.83 239.24h0M351.42 210.75h0M355.74 195.16h0M353.51 206.12h0M291.33 280.08h0M219.07 343.18h0M376.98 193.61h0M259.57 280.02h0M394.15 178.43h0M241.64 305.42h0M320.34 238.89h0M390.13 214.05h0M261.99 300.36h0M316.66 223.76h0M388.47 186.31h0M265.91 309.26h0M358.98 203.49h0M287.45 305.45h0M241.29 313.21h0M412.14 166.19h0M236.22 326.45h0M221.05 329.08h0M350.38 218.69h0M251.5 301.19h0M281.15 283.21h0M214.41 351.29h0M192.98 361.07h0M282.03 281.76h0M228.74 335.38h0M381.8 180.54h0M363.56 244.84h0M217.51 332.13h0M305.25 230.46h0M263.55 284.13h0M222.12 339.69h0M317.08 258.7h0M298.29 242.85h0M242.67 354.7h0M345.65 238.77h0M281.23 262.8h0M298.71 229.86h0M254.46 303.82h0M355.25 233.38h0M420.21 209.6h0M379.45 187.38h0M246.88 317.59h0M338.09 226.88h0M388.4 175.69h0M298.79 237.73h0M399.65 193.41h0M266.52 315.1h0M262.26 304.38h0M285.92 277h0M320.32 250.8h0M299.05 268.79h0M275.99 285.4h0M260.4 267.81h0M267.31 313.66h0M232.9 318.5h0M282.59 260.65h0M292.03 270.07h0M242.55 328.32h0M246.82 321.67h0M342.27 229.39h0M372.12 197.22h0M272.24 284.82h0M288.53 255.41h0M212.95 341.87h0M350.77 207.98h0M334.53 232.56h0M221.4 344.19h0M393.79 174.72h0M311.6 205.61h0M218.95 338.8h0M317.16 241.84h0M319.26 254.97h0M232.82 362.79h0M350.92 215.54h0M292.52 305.51h0M332.48 227.07h0M422.07 148.97h0M286.05 291.98h0M283.22 249.07h0M310 253.81h0M183.85 377.45h0M234.51 319.29h0M405.03 158.58h0M261.4 287.02h0M199.18 377.29h0M257.45 340.21h0M199.02 359.98h0M413.93 164.89h0M316.77 235.26h0M292.21 288.41h0M229.79 325.73h0M222.11 325.61h0M279.94 289.26h0M239.82 329.82h0M318.79 278.21h0M412.27 158.75h0M243.59 318.73h0M339.99 225.38h0M418.19 135.98h0M308.95 263.46h0M388.11 166.41h0M254.88 314.82h0M201.41 353.44h0M274.76 270.86h0M215.64 363.43h0M226.89 333.53h0M308.8 259h0M344.37 233.78h0M193.2 363.86h0M339.18 243.71h0M246.36 314.19h0M307.45 232.54h0M291.07 266.48h0M208.85 349.07h0M246.11 331h0M396.49 163.84h0M387.04 186.56h0M316.06 253.73h0M331.82 261.17h0M239.57 340.06h0M264.96 322.7h0M235.82 324.02h0M213.84 321.87h0M392.75 175.8h0M331.07 229.6h0M286.56 290.27h0M338.02 238.74h0M262.86 288.45h0M328.83 253.71h0M271.95 312.31h0M325.57 233.61h0M323.73 227h0M328.44 222.79h0M228.94 335.44h0M340.22 221.01h0M266.13 285.29h0M249.1 299.69h0M256.45 305.11h0M247.32 309.38h0M362.88 224.75h0M217.73 327.44h0M276.09 273.63h0M285.49 280.37h0M326.96 220.35h0M386.3 204.56h0M313.99 240.62h0M302.43 249.26h0M350.31 202.1h0M409.4 156.96h0M279.63 242.09h0M231.2 338.81h0M305.34 270.06h0M260.08 296.42h0M358.21 204.11h0M225.07 349.93h0M350.66 232.02h0M410.16 171.2h0M267.28 301.29h0M277.32 281.24h0M421.04 148.16h0M333.7 239.01h0M281.59 237.17h0M298.42 261.35h0M320.24 234.8h0M375.42 235.71h0M254.88 310.33h0M398.01 166.33h0M423.7 138.45h0M334.38 222.57h0M392.29 173.38h0M340.75 221.11h0M395.53 179.76h0M316.28 239.46h0M238.61 293.96h0M381.39 199.2h0M306.44 251.6h0M398.02 155.9h0M337.85 237.06h0M355.09 253.9h0M353.4 208.32h0M250.31 325.39h0M332.04 236.77h0M208.18 354.25h0M371.51 218.9h0M217.02 355.14h0M203.63 355.92h0M355.93 213.72h0M273.08 286.4h0M355.87 194.57h0M260.22 312.79h0M299.98 241.23h0M394.66 183.36h0M319 242.81h0M373.08 200.22h0M214.15 350.39h0M249.15 313.36h0M244.06 312.2h0M410.88 167.24h0M350.84 186.24h0M246.69 310.73h0M254.59 289.86h0M178.88 394.32h0M242.76 343.77h0M261.38 302.74h0M287.14 258.93h0M300.85 306.6h0M319.08 263.21h0M279.34 296.99h0M367.37 204.8h0M221.82 331.72h0M239.55 354.19h0M367.77 178.63h0M235.55 321.55h0M205.24 360.12h0M398.08 169.34h0M284.47 250.92h0M231.88 308.17h0M232.71 335.14h0M231.78 300.79h0M227.95 337.6h0M288.48 294.48h0M228.69 331.43h0M349.98 207.54h0M221.82 323.19h0M272.13 297.27h0M258.58 305.27h0M350.21 208.36h0M210.38 349.27h0M330.29 258.89h0M247.59 335.05h0M346.56 225.73h0M219.19 350.48h0M347.01 212.53h0M236.02 315.09h0M244.75 326.94h0M293.71 260.59h0M358.65 202.32h0M376.72 190.79h0M244.05 343.53h0M208.23 366.57h0M259.86 290.46h0M215.58 342.72h0M280.2 312.16h0M190.57 364.18h0M282.08 268.39h0M302.26 279.22h0M349.14 248.08h0M354.04 212.39h0M273.96 260.09h0M300.09 241.13h0M407.74 165.29h0M307.85 253.19h0M286.58 287.03h0M330.99 219.91h0M332.2 226.88h0M341.16 266.67h0M353.67 218.25h0M216.05 332.56h0M286.87 254.01h0M285.31 290.39h0M296.79 258.95h0M294.98 254.12h0M313.82 242.26h0M284.69 309.84h0M390.75 188.12h0M331.03 248.19h0M287.44 253.2h0M231.8 360.49h0M276.18 253.09h0M276.03 304.64h0M305.93 247.37h0M235.5 329.2h0M324.15 235.53h0M296.95 304.37h0M304.29 253.13h0M316.1 253.05h0M336.42 237.27h0M321 249.88h0M310.88 218.06h0M361.32 215.2h0M280.69 274.56h0M277.32 294.11h0M337.71 242.21h0M374.1 197.56h0M274.12 269.98h0M276.04 246.26h0M283.18 287.17h0M287.3 259.65h0M256.67 325.59h0M281.41 279.41h0M192.69 366.48h0M281.25 303.18h0M295.2 262.46h0M316.79 238.05h0M324.09 252.01h0M268.56 251.15h0M380.89 182.99h0M210.01 368.42h0M301.23 285.42h0M347.98 222.94h0M250.83 305.3h0M289.07 280.79h0M217.95 347.25h0M333.43 229.11h0M328.79 231.71h0M392.04 181.23h0M327.61 223.35h0M366.23 214.53h0M179.66 379.99h0M222.34 347.29h0M345.32 204.45h0M366.15 199.88h0M293.21 265h0M381.66 181.99h0M338.66 220.7h0M183.98 380.55h0M280.35 298.04h0M374.73 188.72h0M236.62 313.72h0M278.67 294.64h0M329.24 232.07h0M341.21 210.53h0M335.94 221.22h0M307.49 298.7h0M384.99 187.87h0M278.83 276.49h0M343.35 263.92h0M368.88 199.73h0M293.8 254.1h0M309.47 263.92h0M327.46 216.07h0M401.54 172.39h0M303.17 252.3h0M276.53 284.57h0M342.18 206.4h0M358.24 156.1h0M401.92 168.06h0M234.82 320.19h0M335.85 225.19h0M370.29 188.72h0M306.86 263h0M262.76 300.66h0M376.95 222.55h0M302.26 278.02h0M224.41 312.1h0M244.48 314.92h0M215.42 342.51h0M234.97 323.45h0M349.92 218.87h0M247.55 312.03h0M256.04 293.99h0M224.74 347.82h0M291.74 241.91h0M388.11 186.7h0M263.38 296.63h0M423.13 146.85h0M337.54 221.48h0M344.58 206.71h0M254.47 334.96h0M319.15 281.91h0M239.42 319.31h0M324.53 250.87h0M327.31 261.6h0M407.33 166.17h0M371.62 193.33h0M223.31 341.29h0M257.77 323.03h0M320.37 225.8h0M292.39 286.47h0M299.65 260.05h0M328.69 231.02h0M307.65 232.24h0M247.12 332.66h0M285.02 278.63h0M245.41 312.71h0M201.74 361.19h0M307.99 256.14h0M342.67 217.55h0M355.81 204.28h0M347.71 226.33h0M407.45 150.88h0M252.72 306.42h0M244.84 338.22h0M335.37 224.52h0M311.6 236.12h0M309.59 243.8h0M275.41 255.5h0M279.77 256.21h0M363 224.7h0M272.54 291.24h0M288.56 263.41h0M348.19 231.65h0M277.51 278.46h0M226.92 331.77h0M226.23 336.95h0M266.23 321.09h0M296.23 276.72h0M256.55 266.9h0M392.56 182.57h0M301.22 232.38h0M255.48 334.01h0M315.08 242.5h0M268.42 282.5h0M252.26 342.11h0M218.72 328.66h0M245.4 328.19h0M234.87 361.95h0M327.38 239.52h0M356.64 199.86h0M322.68 235.25h0M401.13 167.61h0M340.54 231.24h0M264.19 282.23h0M353.68 184.68h0M267.87 287.62h0M242.14 325.61h0M263.63 300.13h0M268.62 293.07h0M261.86 330.5h0M240.85 316.54h0M233.81 323.19h0M372.93 191.5h0M415.62 166.93h0M291.17 283.48h0M323.24 239.01h0M280.25 274.27h0M281.99 265.43h0M302.38 242.51h0M392.93 164.01h0M314.68 233.21h0M295.74 264.22h0M319.57 268.67h0M246.72 310.22h0M300.22 252.71h0M343.41 212.94h0M373.68 206.74h0M256.25 308.25h0M271.37 297.29h0M365.97 241.03h0M206.94 365.6h0M393.57 172.7h0M391.24 175.22h0M343.5 210.99h0M279.59 269.97h0M253.45 297.57h0M311.48 244.4h0M282.28 270.58h0M325.32 223.83h0M344.89 263.64h0M308.24 218.67h0M417.35 152.99h0M378.62 197.84h0M300.19 256.85h0M246.71 311.19h0M346.13 200.61h0M286.09 266.7h0M217.21 345.03h0M232.31 304.92h0M409.81 160.49h0M211.06 346.68h0M281.72 300.79h0M254.65 313.79h0M275.4 283.42h0M228.68 344.99h0M234.67 323.48h0M275.15 309.55h0M325.81 228.66h0M317.25 254.82h0M351.15 212.79h0M350.17 207.8h0M227.3 309.65h0M241.29 315.35h0M346.83 241.92h0M276.39 300.27h0M329.58 248.61h0M351.08 210.55h0M304.07 267.59h0M267.63 292.08h0M322.06 245.65h0M220.42 344.89h0M314.94 244.24h0M353.84 194.5h0M245.1 339.96h0M292.33 263.09h0M318.6 272.92h0M294.46 260.54h0M356.34 243.07h0M302.81 284.36h0M328.77 227.79h0M370.32 235.68h0M228.44 334.12h0M300.18 301.14h0M240.42 349.01h0M254.92 344.55h0M254.66 293.48h0M418.03 143.28h0M325.58 247.58h0M236.03 339.62h0M273.01 296.98h0M312.81 249.42h0M286.73 299.72h0M338.13 231.71h0M374.96 181.49h0M336.11 252.39h0M233.5 358.4h0M382.61 173.1h0M240.8 314.89h0M355.26 237.41h0M296.32 263.74h0M289.3 266.95h0M329.9 246.21h0M332.93 232.51h0M359.22 228.98h0M335.49 226.51h0M312.27 232.48h0M328.54 243.64h0M253.54 281.19h0M330.88 228.87h0M227.05 334.57h0M326.8 225.93h0M279.39 277.95h0M285.94 262.56h0M390.9 192.8h0M315.41 256.94h0M243.55 296.5h0M269.24 282.4h0M268.86 304.21h0M235.15 330.4h0M342.12 219.43h0M249.92 329.6h0M300.04 248.91h0M270.63 270.08h0M329.52 223.45h0M262.84 291.39h0M332.23 221.71h0M326.86 242.85h0M338.32 234.38h0M290.4 269.1h0M290.48 269.65h0M227.1 322.78h0M345.28 253.17h0M263.71 295.6h0M310.68 231.61h0M302.08 240.77h0M280.93 268.26h0M251.18 344.16h0M321.08 229.51h0M252.33 308.39h0M350.72 233.04h0M213.61 326.85h0M314.11 270.6h0M183.62 386.21h0M346.05 209.94h0M265.3 311.92h0M230.47 333.72h0M302.36 264.96h0M205.03 355.61h0M226.65 328.08h0M343.75 237.95h0M257.8 301.01h0M287.04 292.22h0M235.23 310.85h0M315.28 239.8h0M230.29 318.97h0M282.59 269.79h0M253.44 282.7h0M283.43 259.69h0M247.08 306.69h0M241.96 324.65h0M331 259.37h0M198.52 342.84h0M270.98 301.8h0M379.73 193.77h0M334.77 222.84h0M270.84 296.43h0M315.48 278.9h0M239.16 314.17h0M295.01 270.62h0M396.15 167.62h0M262.11 288.98h0M208.37 362.34h0M214.96 354.34h0M325.5 257.97h0M336.64 244.76h0M306.5 261.61h0M205 342.01h0M224.84 331.33h0M361.11 211.18h0M287.51 286.42h0M337.62 222.02h0M245.92 329.56h0M397.28 231.14h0M367.97 205.56h0M270.51 305.76h0M226.09 314.54h0M231.26 348.89h0M243.71 296.21h0M327.54 238.43h0M266.52 305.24h0M306.36 282.43h0M249.21 310.11h0M311.56 233.43h0M239.87 318.98h0M256.82 316.27h0M240.77 324h0M266.91 300.51h0M347.7 241.74h0M294.63 306.75h0M228.62 343.53h0M317.8 237.19h0M255.94 291.34h0M325 228.36h0M306.73 294.13h0M322.95 236.47h0M272.6 296.12h0M287 267.5h0M264.78 309.02h0M393.89 168.2h0M381.32 176.43h0M261.73 312.43h0M335.27 233.68h0M244.96 328.55h0M222.74 371.47h0M275.1 292.91h0M285.06 281.42h0M393.62 190.93h0M394.73 188.65h0M296.82 260.83h0M219.57 354.39h0M192.05 371.04h0M193.65 371.28h0M262.01 310.55h0M298.97 252.81h0M295.22 281.45h0M310.37 266.23h0M268.1 281.93h0M295.19 252.26h0M363.01 202.59h0M195.93 360.87h0M327.57 230.59h0M215.45 338.85h0M334.44 268.04h0M401.14 165.84h0M260.99 329.78h0M262.15 307.68h0M327.07 246.73h0M184.47 379.3h0M297.04 254.63h0M383.3 190.12h0M308.62 249.06h0M400.28 195.1h0M285.02 283.29h0M351.23 212.72h0M260.75 286.22h0M342.73 260h0M307.86 297.77h0M279.31 297.31h0M266.53 290.47h0M281.7 264.17h0M289.28 267.64h0M221.08 324.55h0M239.36 356.32h0M250.35 314.23h0M258.91 333.31h0M350.89 213.97h0M271.18 283.07h0M255.39 332.04h0M271.73 272.01h0M227.97 353.42h0M223.27 322.72h0M246.42 327.87h0M391.38 193.17h0M300.79 291.27h0M391.47 162.63h0M188.29 372.69h0M239.51 330.8h0M385.81 188.72h0M304.11 253.19h0M322.64 221.55h0M402.83 152.72h0M227.73 329.39h0M314.71 249.58h0M339.49 258.62h0M205.95 348.61h0M315.96 294.22h0M289.35 266.55h0M376.76 188.8h0M345.99 170.32h0M326.1 238.31h0M355.61 253.91h0M343.15 219.14h0M254.16 324.68h0M382.45 198.51h0M246.88 320.43h0M360.58 225.95h0M297.43 255.97h0M338.95 208.92h0M323.07 206.06h0M371.15 213.41h0M262.47 304.68h0M250.06 302.93h0M213.83 323.21h0M345.34 215.9h0M420.54 154.44h0M286.28 294.91h0M322.26 255.89h0M374.86 196h0M340.66 172.19h0M295.71 252.95h0M252.84 298.56h0M363.89 197.43h0M414.11 165.53h0M411.33 154.85h0M356.27 221.75h0M297.42 252.07h0M272.59 276.66h0M217.18 353.75h0M307.72 274.26h0M207.69 354.62h0M293.99 263.6h0M357.27 205.77h0M286.99 281.62h0M291.22 244.39h0M391.57 173.15h0M292.95 253.93h0M327.95 249.99h0M354.84 213.62h0M327.37 233.22h0M345.87 254.69h0M385.48 180.8h0M180.75 379.31h0M338.8 250.4h0M305.37 239.56h0M410.95 163.44h0M200.51 352.39h0M211.43 360.69h0M240.91 327.3h0M311.01 254.47h0M341.02 245.32h0M382.98 232.24h0M198.47 357.41h0M337.15 216.42h0M255.76 307.87h0M414.69 159.4h0M348.59 215.69h0M410.01 161.46h0M306.77 269.43h0M362.86 212.09h0M329.68 223.12h0M295.12 249.2h0M268.02 291.63h0M300.5 258.59h0M219.03 340.82h0M378.53 203.42h0M284.94 252.48h0M371.71 187.23h0M261.09 297.4h0M289.57 298.69h0M350.2 201.38h0M367.7 214.2h0M358.18 225.41h0M350.91 211.17h0M256.56 327.46h0M294.32 268.81h0M274.47 307.6h0M314.51 214.3h0M229.84 308.4h0M303.19 266.5h0M325.23 249.11h0M259.53 295.88h0M295.19 253.72h0M336.95 219.88h0M333.85 205.82h0M269.3 299.66h0M416.25 154.99h0M220.35 340.84h0M373.53 188.6h0M360.28 205.31h0M230.58 359.78h0M361.99 212.87h0M333.63 218.21h0M300.5 274.41h0M228.86 351.91h0M296.07 276.58h0M351.54 195.85h0M312.17 247.47h0M301.38 260.07h0M358.37 218.62h0M334.97 230.97h0M346.39 211.54h0M317.76 245.53h0M261.82 265.97h0M383.47 172.38h0M214.98 347.13h0M208.19 356.33h0M307.13 250.1h0M261.01 297.74h0M347.16 211.44h0M392.48 175.1h0M411.03 165.42h0M350.15 205.32h0M243.58 312.24h0M328.07 228.72h0M353.17 253.36h0M330.04 188.39h0M263.57 292.16h0M319.52 233.65h0M210.89 344.92h0M293.73 257.44h0M277.97 269.29h0M277.12 306.86h0M299.85 254.6h0M368.71 195.64h0M327.77 192.88h0M324.89 248.66h0M287.33 281.35h0M226.3 344.46h0M324.85 229.48h0M337.76 226.22h0M268.02 302.01h0M248.79 283.34h0M364.15 207.59h0M245.57 302.4h0M409.87 172.27h0M301.44 262.1h0M276.05 289.65h0M241.22 325.22h0M227.62 320.17h0M353.6 232.39h0M322.6 196.26h0M218.48 314.26h0M336.99 241.97h0M280.69 301.19h0M314.67 262h0M356.59 228.26h0M319.52 232.05h0M343.17 228.48h0M368.87 197.64h0M373.17 206.95h0M289.28 301.56h0M296.94 222.41h0M344.78 213.95h0M306.93 239.67h0M392.01 171.72h0M351.76 205.7h0M320.69 242.45h0M338.53 230.68h0M309.87 249.32h0M315.52 215.21h0M403.59 164.69h0M244.59 315.3h0M357.1 224.07h0M307.19 242.54h0M257.37 307.82h0M310.28 232.96h0M312.46 248.73h0M279.52 293.3h0M360.41 177.36h0M293.12 281.19h0M255.28 300.83h0M340.86 252.98h0M398.02 173.58h0M329.02 228.57h0M213.74 358.19h0M296.04 256.49h0M236.01 333.77h0M246.6 326.67h0M291.21 261.65h0M360.33 194.36h0M240.26 338.77h0M252.91 288.28h0M252.08 337.86h0M254.31 329.89h0M325.8 235.74h0M270.47 263.14h0M328.33 223.97h0M340.59 236.21h0M377 212.45h0M232.83 325.47h0M183.59 372.74h0M256.22 344.61h0M215.08 356.08h0M412.27 217.79h0M337.54 225.79h0M407.8 161.08h0M341.48 250.76h0M270.06 299.24h0M414.85 163.74h0M325.15 236.68h0M285.78 273.04h0M292.88 287.52h0M352.15 226.51h0M246.47 298.08h0M293.62 221.46h0M310.14 247.14h0M375.29 194.07h0M345.49 211.24h0M270.84 325.5h0M278.38 266.74h0M367.75 194.85h0M315.36 246.39h0M273.98 304.81h0M347.22 210.4h0M262.88 305.22h0M374.12 192.09h0M259.75 298.56h0M223.22 339.49h0M261.39 297.82h0M366.54 172.34h0M324.15 235.06h0M240.77 292.29h0M333.9 225.98h0M405.5 163.59h0M318.31 244.41h0M295.52 270.53h0M242.62 331.45h0M279.03 274.83h0M293.43 262.61h0M321.63 202.24h0M356.15 202.16h0M346.58 213.16h0M235.14 329.67h0M278.78 287.97h0M272.49 290.5h0M282.73 269.15h0M288.84 286.08h0M381.83 224.46h0M379.79 186.29h0M285.78 255.33h0M226.34 335.02h0M272.39 284.09h0M208.21 350.23h0M353.24 167.97h0M274.09 298.41h0M312.37 260.27h0M383.35 203.8h0M258.76 299.39h0M216.65 354.05h0M264.74 270.48h0M361.59 224.2h0M289.55 298.04h0M395.43 178.86h0M265 320.92h0M342.07 252.97h0M341.3 219.78h0M228.46 323.8h0M231.43 322.03h0M242.66 313.76h0M253.05 333.5h0M331.53 231.45h0M356.26 208.08h0M274.67 285.11h0M278.29 270.89h0M292.6 267.81h0M424.35 147.59h0M215.65 351.11h0M260.56 296.11h0M371.77 213.7h0M351.11 233.24h0M263.81 304.5h0M282.73 286.21h0M339.17 212.91h0M208.47 362.06h0M250.69 305.03h0M370.17 212.39h0M311.61 270.22h0M302.85 250.69h0M292.52 254.86h0M345.11 217.5h0M270.92 276.84h0M278.01 325.69h0M264.85 269.12h0M247.32 292.97h0M331.85 246.68h0M236.8 312.14h0M371.5 193.87h0M227.48 326.22h0M260.47 291.3h0M352.69 168.92h0M306.77 251.31h0M304.56 245.53h0M250.96 297.06h0M225.17 337.43h0M216.23 353.98h0M366.25 195.16h0M211.83 339.08h0M185.65 385.07h0M344.61 216.02h0M291.98 286.66h0M327.67 230.31h0M319.23 241h0M375.14 188.42h0M405.42 160.24h0M229.46 336.39h0M331.4 215.58h0M303.7 241.3h0M277.51 250.46h0M266.26 294.12h0M306.56 249.67h0M290.2 263.66h0M299.54 219.22h0M249.68 300.62h0M293.24 259.81h0M296.59 246.79h0M230.26 332.89h0M299.86 265.88h0M410.87 155.69h0M288.24 271.14h0M368.19 198.47h0M215.8 344.97h0M320.68 228.21h0M343.39 243.5h0M290.74 301.94h0M383.43 183.93h0M264.52 296.34h0M209.89 352.14h0M347.09 202.99h0M228.81 337.72h0M245.32 312.31h0M225.73 345.34h0M263.95 260.56h0M268.29 292.82h0M354.77 213.94h0M219.43 357.68h0M260.43 314.39h0M365.41 193.97h0M323.36 271.56h0M296.22 268.08h0M247.67 299.03h0M356.68 244.53h0M327.89 244.71h0M299.18 243.36h0M336.08 231.49h0M353.55 217.56h0M200.73 369.55h0M286.41 298.86h0M251.66 320.03h0M351.57 244.48h0M273.02 272.25h0M210.12 331.62h0M236.14 325.7h0M396 188.12h0M347.36 250.41h0M226.1 367.69h0M237.53 328.15h0M233.76 322.94h0M217.64 342.25h0M339.86 251.58h0M252.54 348.27h0M324.89 242.27h0M271.19 296.94h0M340.39 211.64h0M230 348.1h0M325.91 281.5h0M335.81 244.96h0M236.29 313.47h0M328.9 231.76h0M278.59 262.27h0M256.12 292.07h0M397.91 165.26h0M321.67 228.25h0M337.48 232.23h0M261.23 339.04h0M303.81 259.12h0M309.03 266.08h0M263.47 286.06h0M289.08 259.44h0M352.72 211.52h0M327.77 225.85h0M265.91 310.44h0M331.23 268.98h0M333.62 223.46h0M290.81 246.89h0M260.85 331.19h0M216.18 336.04h0M332.69 252.59h0M237.09 351.11h0M349.07 224.26h0M326.33 216.52h0M228.32 324.08h0M334.38 242.87h0M383.49 183.04h0M281.51 263.95h0M328.13 273.12h0M292.4 266.09h0M287.36 251.7h0M318.25 272.47h0M275.11 299.39h0M275.03 292.63h0M219.01 324.68h0M235.13 312.78h0M251.74 340.43h0M376.93 179.79h0M336.08 224.49h0M221.13 319.33h0M185.37 374.68h0M360.51 226.38h0M338.54 252.19h0M329 214.47h0M408.6 168.58h0M242.55 297.91h0M308.25 242.68h0M219.69 335.03h0M201.02 367.63h0M378.13 186.2h0M215.24 344.81h0M288.95 270.8h0M254.45 325.07h0M227.12 315.75h0M374.28 191.4h0M296.2 262.26h0M274.85 304.41h0M262.89 302.97h0M331.24 243.96h0M354.03 212.02h0M372.6 187.05h0M278.97 277.65h0M372.33 191.99h0M317.32 234.41h0M364.37 214.64h0M357.16 222.92h0M289.98 272.48h0M300.97 244.61h0M384.31 176.63h0M353.32 195.25h0M330.35 222.32h0M217.03 343.71h0M218.95 333.96h0M293.22 256.31h0M377.37 175.36h0M382.16 179.41h0M325.66 267.01h0M263.93 300.72h0M414.15 159.84h0M292.47 281.8h0M328.46 245.6h0M252.42 333.78h0M306.73 257.37h0M265.16 316.9h0M185.26 367.28h0M242.35 320.78h0M368.42 204.46h0M288.36 272.07h0M363.76 217.86h0M241.21 331.45h0M341.65 227.94h0M412.07 188.58h0M403.91 164.06h0M338.26 244.36h0M260.03 294.59h0M346.83 219.92h0M251.99 326.96h0M313.28 248.95h0M277.32 288.83h0M231.39 337.96h0M263.37 297.84h0M235.61 333.96h0M206.95 374.53h0M391.25 169.17h0M218.95 343.62h0M297.52 253.02h0M305.77 257.04h0M336.93 240.36h0M302.65 254.6h0M208.57 353.27h0M209.96 371.83h0M369.87 173.79h0M363.09 199.45h0M265.69 259.9h0M305.85 221.09h0M362.54 227.31h0M339.26 237.73h0M233.35 313.88h0M263.56 295.46h0M205.05 346.31h0M206.6 356.6h0M254.19 319.84h0M289.39 271.65h0M334.32 236.69h0M249.14 296.39h0M329.18 236.8h0M215.67 338.98h0M310.71 250.07h0M333.86 220.79h0M310.93 273.36h0M280.52 292.88h0M269.55 301.15h0M240.71 313.49h0M298.91 280.4h0M328.93 240.45h0M291.24 258.33h0M268.41 287.57h0M301.64 264.81h0M291.03 261.78h0M402.92 168.42h0M349.25 232.9h0M199.36 349.58h0M337.77 234.29h0M338.74 224.57h0M358.68 238.97h0M288.97 286.42h0M317.39 250.03h0M376.84 196.84h0M270.03 288.38h0M186.66 379.28h0M233.47 311.5h0M387.08 200.37h0M325.51 211.94h0M318.74 242.5h0M250.17 302.98h0M224.5 317.75h0M348.23 227.73h0M277.69 275.99h0M379.78 193.55h0M405.96 193.57h0M281.16 275.66h0M237.2 313.56h0M254.06 310.12h0M290.1 285.9h0M379.37 187.7h0M226.9 332.62h0M361.68 177.96h0M362 249.87h0M373.03 193.97h0M365.3 195.57h0M275.93 267.97h0M331.7 244.1h0M302.35 246.03h0M262.31 308.2h0M345.76 201.92h0M312.33 247.99h0M341.2 207.09h0M283.78 281.84h0M263.5 294.06h0M223.54 340.43h0M246.03 284.26h0M192.27 387.01h0M350.37 210.53h0M319.21 286.08h0M311.45 248.19h0M289.13 261.31h0M260.59 275.73h0M298.07 254.35h0M331.37 228.73h0M334.72 227.03h0M369.64 191.79h0M218.62 331.12h0M281.18 290.05h0M381.99 195.39h0M222.78 338.45h0M277.19 316.19h0M317.72 256.56h0M282.13 296.61h0M267.43 312.79h0M361.29 200.47h0M359.32 256.04h0M272.05 317h0M300.9 253.1h0M239.39 335.93h0M238.59 315.63h0M339.27 166.16h0M356.84 223.49h0M314.86 239.87h0M253.8 311.43h0M344.3 218.47h0M280.73 269.62h0M272.84 263.43h0M353.16 221.97h0M197.4 368.95h0M294.17 239.11h0M249.84 314.45h0M300.1 274.37h0M346.56 221.27h0M284.64 288.86h0M345.34 195.76h0M373.5 191.25h0M301.67 278h0M287.53 258.93h0M360.86 217.04h0M279.86 266.69h0M393.65 205.55h0M333.5 244.07h0M265.35 315.74h0M278.91 300.31h0M278.53 279.1h0M378.15 216.93h0M262.77 337.24h0M315.07 202.26h0M271.06 256.78h0M365.19 202.56h0M293.54 243.81h0M332.92 257.97h0M236.78 307.09h0M413.84 167.15h0M344.82 203.94h0M221.93 338.04h0M407.49 165.7h0M304.79 249.95h0M363.39 202.57h0M362.2 198.9h0M316.48 259.84h0M277 297.88h0M263.06 316.11h0M211.8 350.52h0M408.93 161.66h0M365.09 190.88h0M269.16 253.85h0M213.82 352.63h0M368.8 181.39h0M262.41 282.5h0M357.7 240.85h0M300.42 243.83h0M392.85 176.23h0M303.06 239.74h0M395.34 171.99h0M342.99 204.56h0M337.68 234.78h0M224.56 340.13h0M334.58 241.46h0M320.03 231.42h0M241.86 326.88h0M403.49 153.64h0M216.17 353h0M344.34 217.96h0M303.93 269.05h0M318.53 227.47h0M361.34 208.23h0M341.88 239.09h0M194.43 365.68h0M301.69 257.09h0M408.76 167.51h0M338.32 239.02h0M301.33 235h0M277.86 274.54h0M395.87 181.15h0M261.97 302.23h0M214.19 332.16h0M261.74 293.63h0M310.39 292.07h0M256.12 290.65h0M281.24 284.84h0M255.17 302.17h0M249.64 341.69h0M224.35 339.01h0M342.22 210.16h0M245.63 324.1h0M227.98 297.49h0M299.6 254.24h0M315.17 260.63h0M311.87 229.48h0M318.01 219.65h0M268.15 297.76h0M341.98 232.12h0M255.07 319.98h0M324.08 283.45h0M325.75 235.16h0M373.8 223.75h0M414.19 153.94h0M247.34 340.18h0M307.12 251.15h0M329.65 230.31h0M339.21 209.47h0M204.23 376.67h0M225.64 312.1h0M326.01 231.66h0M259.83 300.39h0M288.41 252.42h0M386.94 178.01h0M386.08 188.13h0M327.27 253.53h0M326.41 249.69h0M355.04 205.41h0M374.22 221.45h0M226 326.33h0M388.55 204.48h0M283.95 247.75h0M283.22 263.98h0M356.73 223.21h0M351.97 228.29h0M179.39 385.05h0M300.93 233.97h0M341.06 250.84h0M299.63 306.38h0M288.55 242.43h0M258.24 335.31h0M261.97 300.54h0M188.28 372.21h0M350.79 207.61h0M283.93 281.45h0M221.49 354.8h0M354.72 212.24h0M282.56 297.69h0M383.66 184.35h0M220.49 360.15h0M247.85 294.49h0M360.42 199.61h0M258.74 316.09h0M390.16 181.8h0M291.06 246.66h0M335.64 227.84h0M291.61 269.01h0M320.74 280.83h0M367.06 198.2h0M343.76 212.51h0M359.03 198.22h0M274.37 275.51h0M243.57 330.97h0M251.5 333.16h0M251 308.4h0M386.27 205.66h0M342.16 213.09h0M302.08 270.78h0M409.63 184.99h0M368.47 210.05h0M291.63 262.74h0M290.51 264.38h0M360.9 203.16h0M354.32 184.57h0M338.26 207.13h0M250.71 296.14h0M345.86 238.34h0M327.71 258.24h0M269.88 279.05h0M377.47 210.66h0M300.35 237.46h0M355.51 214.5h0M222.05 359.29h0M357.25 231.04h0M272.01 265.57h0M334.26 200.06h0M337.9 229.52h0M314.38 266.63h0M312.98 237.99h0M308.09 279.13h0M335.52 242.61h0M378.66 192.59h0M336.57 248.5h0M259.41 333.45h0M245.81 331.33h0M372.05 191.33h0M216.6 371.64h0M282.45 247.23h0M291.36 281.74h0M279.36 292.27h0M348.26 264.68h0M371.63 235.71h0M361.62 213.66h0M338.05 194.35h0M297.5 272.87h0M342.77 233.42h0M235.51 332.74h0M273.22 303.57h0M264.7 306.71h0M319.48 249.87h0M220.87 339.86h0M264.57 292.57h0M253.12 306.57h0M201.64 364.06h0M300.01 279.59h0M308.53 251.39h0M271.52 281.45h0M305.34 248.59h0M385.43 203.9h0M354.69 220.84h0M394.84 178.32h0M267.06 273.54h0M246.3 305.81h0M335.42 232.64h0M300.53 231.21h0M216.93 357.44h0M274.66 301.65h0M255.39 288.92h0M381.31 192.04h0M200.02 348.92h0M309.82 257.62h0M289.65 273.03h0M283.23 247.24h0M283.9 296.55h0M241.22 318.6h0M376.69 188.55h0M214.19 336.07h0M334.09 278.55h0M344.6 264.07h0M338.88 205.79h0M314.32 237.1h0M271.1 316.88h0M371.47 191.41h0M365.02 227.21h0M224.7 338.76h0M372.66 196.34h0M355.03 195.16h0M191.05 390.58h0M274.83 279.68h0M213.07 345.38h0M205.81 359.02h0M373.47 224.48h0M300.83 259.24h0M351.18 206.63h0M346.26 214.3h0M196.24 371.4h0M341.9 226.61h0M386.16 180.07h0M246.68 336.55h0M222.88 357.82h0M277.28 274.24h0M269.32 286.27h0M364.35 201.81h0M238.64 334.06h0M325.78 239.93h0M276.9 283.98h0M221.47 359.3h0M303.23 233.59h0M248.22 314.17h0M292.62 248.58h0M245.05 306.36h0M269.64 299.65h0M289.19 275.86h0M323.56 260.42h0M190.52 372.04h0M294.55 263.05h0M380.3 191.26h0M351.19 214.25h0M239.5 308.81h0M417.77 206.72h0M315.89 239.79h0M417.94 155.13h0M254.41 347.08h0M177.73 379.21h0M301.98 260.94h0M301.64 247.53h0M279.79 322.02h0M216.9 348.83h0M349.76 210.53h0M259.34 307.92h0M235.22 321.99h0M329.78 259.26h0M360.11 206.48h0M331.99 240.5h0M325.74 242.8h0M259.14 286.3h0M265.72 287.76h0M215.75 334.79h0M326.59 217.05h0M288.55 268.92h0M264.6 313.26h0M329.68 225.33h0M296.87 272.2h0M346.97 211.53h0M411.32 144.18h0M256.59 291.11h0M260.22 299.69h0M319.95 269.18h0M282.41 282.87h0M289.81 277.83h0M263.82 289.72h0M322 263.53h0M277.63 327.68h0M231.02 300.49h0M258.19 305.15h0M311.11 248.09h0M243.57 311.24h0M421.35 146.93h0M213.32 363.4h0M330.05 178.25h0M373.91 192.92h0M259.71 293.52h0M209.91 352.64h0M364.55 219.84h0M351.92 213.06h0M244.79 312.67h0M353.95 209.38h0M272.72 274.51h0M287.78 319.15h0M268.84 269.02h0M229.3 341.59h0M369.38 176.3h0M251.07 336.28h0M346.42 210.35h0M320.59 239.34h0M353.2 211.33h0M230.3 324.7h0M205.94 367.94h0M314.67 234.72h0M368.5 194.14h0M365.07 223.52h0M276.44 267.58h0M227.96 316.91h0M185.94 378.37h0M224.74 328.71h0M305.89 263.17h0M309.09 245.85h0M293.18 292.33h0M348.04 217.76h0M325.49 229.79h0M357.88 207.38h0M280.37 290.11h0M394.61 173.89h0M368.06 189.95h0M403.84 153.31h0M319.82 248.79h0M319.73 246.84h0M339.22 245.33h0M219.31 342.66h0M355.16 209.92h0M226.53 348.86h0M360.34 200.74h0M344.63 199.19h0M377.98 188.58h0M370.93 186.28h0M265.78 290.06h0M377.84 189.12h0M206.91 358.89h0M266.96 308.38h0M315.6 204.05h0M362.85 211.28h0M355.17 231.56h0M336.1 238.25h0M236.4 303.37h0M303.07 268.02h0M357.85 203.41h0M268.98 302.5h0M363.12 207.14h0M326.16 247.83h0M403.13 212.33h0M299.9 260.57h0M315.14 231.85h0M287.66 280.47h0M227.2 338.38h0M408.39 153.97h0M272.1 285.99h0M281.35 278.08h0M384.38 197.87h0M205.87 341.53h0M246.73 335.41h0M223.71 330.88h0M328.98 217.07h0M264.99 261.6h0M399.43 168.3h0M220.99 359.34h0M260.25 288.28h0M277.23 285.51h0M283.77 295.63h0M284.12 271.67h0M304.65 252.62h0M389.14 161.51h0M290.33 263.88h0M353.48 201.81h0M319.88 221.73h0M186.93 368.72h0M216.46 326.56h0M282.19 258.59h0M384.7 175.9h0M258.45 324.41h0M256.51 301.22h0M244.72 325.49h0M411.46 174.48h0M304.73 280.73h0M421.48 148.56h0M330.8 243.27h0M336.16 240.46h0M377.82 205.79h0M358.61 200.77h0M373.9 188.87h0M306.57 269.46h0M344.45 218.5h0M255.96 287.31h0M342.73 260.57h0M228.1 338.56h0M370.32 197.54h0M302.62 235.39h0M195.64 364.94h0M386.09 225.65h0M287.31 246.56h0M371.55 206.46h0M287.63 264.34h0M264.49 272.65h0M379.76 224.53h0M372.55 194.06h0M290.71 223.83h0M326.1 227.61h0M292.96 261.76h0M343.17 217.29h0M321.54 230.29h0M188.98 369.84h0M352.17 260.1h0M408.68 178.82h0M358.88 219.01h0M319.34 236.28h0M314.82 205.72h0M319.86 218.17h0M233.69 320.22h0M351.06 210.78h0M291.61 272.84h0M218.82 338.16h0M300.31 266.29h0M303.25 274.74h0M368.49 199.23h0M336.6 237.53h0M354.39 227.03h0M301.33 254.57h0M251.39 304.63h0M234.73 346.26h0M397.25 158.94h0M219.07 347.83h0M354.08 222.73h0M284.17 317.1h0M221.76 320.46h0M243.39 320.43h0M263.22 299.08h0M386.24 180.32h0M319.29 227.45h0M289.27 247.88h0M212.2 355.5h0M292.74 263.96h0M360.63 203.04h0M338.96 221.28h0M343.11 230.26h0M198.06 364.67h0M316.81 264.3h0M252.11 323.22h0M174.98 383.94h0M221.17 346.07h0M283.76 277.44h0M289.48 233.67h0M317.99 247.38h0M309.32 267.82h0M263.56 280.11h0M362.36 214.32h0M258.23 296.53h0M260.29 326.19h0M301.13 228.58h0M352.77 206.89h0M254.72 281.65h0M276.58 285.1h0M389.56 171.13h0M365.31 184.68h0M269.24 285.81h0M317.97 228.33h0M370.19 203.25h0M274.94 286.31h0M210.49 341.88h0M402.88 165.53h0M234.09 335.95h0M341.63 250.26h0M382.93 205.22h0M259.45 305.61h0M345.89 234.68h0M285.97 302.62h0M281.22 311.36h0M301.72 252.05h0M339.99 223.59h0M324.68 253.04h0M340.4 203.21h0M187.07 387.89h0M288.25 305.99h0M251.4 320.48h0M249.39 278.06h0M297.07 226.57h0M266.93 289.29h0M392.53 176.75h0M365.06 195.35h0M268.5 274.16h0M283.21 275.82h0M411.5 189.64h0M316.19 246.43h0M372.97 198.85h0M300.58 240.52h0M335.3 205.32h0M221.65 325.55h0M401.76 174.3h0M329.07 242.94h0M389.04 169h0M300.05 291.15h0M354.51 218.43h0M267.54 299.08h0M233.51 343.69h0M314.01 228.9h0M214.81 338.8h0M263.4 279.92h0M259.48 289.16h0M257.8 296.17h0M306.95 213h0M222.57 334.72h0M338.45 227.5h0M383.03 179.05h0M348.97 244.33h0M349.12 215.68h0M292.09 269.68h0M413.57 157.33h0M366.51 201.82h0M286.56 280.34h0M251.49 342.51h0M270.45 280.41h0M311.78 213.05h0M241.22 283.71h0M326.27 247.43h0M415.92 177.26h0M435 100.29h0M459.29 109.71h0M479.71 114h0M437.14 116.14h0M443.57 115h0M447.14 115.43h0M447.86 117.86h0M442.86 119.29h0M444.29 120.71h0M454.29 117.14h0M456.43 114.29h0M457.43 115h0M455.71 119.29h0M456.86 120.71h0M455 121.71h0M453.57 123.57h0M447.86 122.86h0M449.29 125h0M462.57 121.14h0M465 122.57h0M435.71 123.57h0M434.29 125h0M433.57 126.86h0M437.14 126.43h0M440 126.86h0M442.14 126.86h0M443.57 126.86h0M430.71 127.86h0M431.43 130h0M430 131.43h0M432.14 129.29h0M484 128.86h0M445.71 131.86h0M459.71 131.86h0M481.71 136.14h0M466 135h0M466 138.57h0M437.86 134.29h0M439.29 135.43h0M426.43 137.86h0M428.57 139.29h0M430.71 138.57h0M429.29 141.43h0M427.14 142.86h0M431.43 140.71h0M441.43 138.57h0M442.86 140.29h0M446.43 137.14h0M447.14 140.71h0M437.86 142.57h0M442.14 142.86h0M442.86 145h0M449.29 143.57h0M455.43 142.57h0M425.71 147.14h0M429.29 146.43h0M430.71 145h0M432.86 146.43h0M434.29 145.71h0M425 149.29h0M428.57 150h0M430.71 150h0M425 155h0M425.71 156.43h0M426.43 155.71h0M432.86 155h0M435.71 155h0M441.43 148.57h0M443.57 152.14h0M453.14 157.14h0M449.29 160.29h0M430.71 161.43h0M425 164.57h0M438.57 164.57h0M437.14 165.71h0M443.57 171.86h0M434.29 174.29h0M439.29 190h0M430.71 196.14h0" stroke="#00ff00" stroke-width="2.64" stroke-linecap="round" fill="none"/><path d="M249.6 111.6h0M247.6 124.4h0M250.8 129.6h0M234.8 143.6h0M245.4 142.6h0M253 144.6h0M232.8 148.8h0M229.6 152h0M240 149.8h0M243.4 148.8h0M240.2 153h0M226.6 165.6h0M221.2 176.2h0M226.6 174h0M226.6 183.6h0M256 173h0M259.6 134.8h0M267.8 141.4h0M331.4 139.2h0M354.8 143.6h0M281.4 163.6h0M280.4 166.8h0M315.4 163.6h0M273 176.2h0M301.6 173h0M321.8 174h0M284.6 181.4h0M291 183.6h0M266.6 188h0M268.6 189h0M497.6 178.4h0M455.2 187.8h0M227.6 193h0M236 194.4h0M229.6 197.2h0M252.8 196h0M221.2 198.6h0M219.2 200.6h0M223.2 203.6h0M210.6 212h0M207.6 214h0M223.2 212.8h0M229.6 217.4h0M250.8 216.4h0M216 220.6h0M247.6 221.6h0M257.2 219h0M256 225h0M250.8 228h0M221.2 228.8h0M241.6 231h0M196.8 232.2h0M239 235h0M250.8 234.4h0M210.6 238.4h0M215 240.4h0M223.2 238.4h0M230.8 240.4h0M246.6 239.6h0M256 241.6h0M184 244.8h0M185.2 252h0M215 253h0M241.6 244h0M252.8 243.6h0M247.4 248h0M236.8 250h0M241 250.4h0M245 253h0M251.6 249.2h0M228.6 256.4h0M175.8 257.2h0M237.6 257.4h0M243 257.6h0M245 257.6h0M221.6 260.6h0M194.6 261.8h0M236.2 263h0M240.4 262.4h0M251.2 262.4h0M209 269h0M190.4 271h0M200 273.4h0M204.6 272h0M213.6 272h0M215.6 272.4h0M222.6 270.4h0M227.6 270.4h0M229.6 267.6h0M233.8 269.4h0M238 268h0M241 270.4h0M244.8 271.6h0M248 273h0M170.4 273.2h0M223 274h0M226.4 277h0M231.6 274h0M236 275h0M239.8 274h0M243.6 276.4h0M217.8 277.4h0M212 279.6h0M209.2 281h0M220.6 281h0M222.6 280h0M226 284.4h0M233.2 280.8h0M238 279.6h0M241 279.6h0M191 280.4h0M199 283h0M195 286h0M204 284.4h0M210.6 284.6h0M216.6 284h0M221 282.6h0M229.6 285.6h0M233 284.6h0M235 283.4h0M163.4 290h0M173.6 291.2h0M206 291h0M216.6 290h0M220.6 289h0M225 290h0M229 290h0M234 289.4h0M203 295h0M212 295h0M216 294h0M219 296h0M173.6 298.4h0M208.6 300h0M213 299h0M217 300h0M221 299h0M224 301h0M266 194.4h0M275.4 198h0M280.4 199.6h0M283 196h0M290 201.6h0M291 203.6h0M282.6 206.4h0M267 211h0M273 213h0M262 215h0M261 218h0M266 219h0M271 218h0M287 214.4h0M292 210h0M289 218h0M286 221.6h0M277 221h0M291 217h0M266 225h0M267 228h0M265 229h0M279 231h0M283 227h0M273 235h0M269 236.4h0M276.6 235h0M261 238h0M260 241h0M268 243h0M270 244.4h0M263 244h0M260.6 249h0M265 252h0M363 267h0M367 265h0M360 271h0M353 270h0M355 269h0M359 274h0M363 276h0M366 279h0M341 280h0M344 278.4h0M347 281h0M351 282h0M354 283h0M341 286h0M345 287h0M350 286h0M353 287h0M355 290h0M343 291h0M346.4 293h0M345 296h0M348 298h0M327 293h0M325 295h0M329 296h0M326 301h0M335 301h0M329 303h0M355 301h0M379 252h0M382 253h0M387 252h0M384 250h0M444.6 203.6h0M477.4 207.6h0M466 211h0M441.4 215.4h0M456 214.4h0M455 216.4h0M419 221.6h0M438.4 222.6h0M406.4 226.8h0M429.6 228h0M478.4 226.8h0M486.8 225.8h0M410.6 233.2h0M434 236.4h0M392.4 238.4h0M389.6 241.6h0M415 240.4h0M419 242.8h0M408.6 243.6h0M402.4 244.8h0M396 246h0M398 245h0M407.6 248h0M413 248.4h0M413 250h0M419.4 248h0M419.4 249.6h0M399 256.4h0M401.6 256.4h0M415.2 256.4h0M430.6 255.4h0M175.8 313.2h0M194.4 313.2h0M201 312.4h0M203 306.4h0M205.6 310h0M209 307.6h0M211.6 308h0M214 307h0M211 313.6h0M209 316.4h0M207 319h0M204 321h0M202 323h0M193.6 320.6h0M195.6 325h0M198 331h0M196.6 332h0M166 333.4h0M187.6 333.4h0M190.6 338.4h0M188.4 340h0M174.4 350.6h0M173.6 352h0M173.4 358.4h0M181.2 350.4h0M163.2 371.4h0M203 389h0M221.6 375h0M224.4 377.6h0M227.6 372h0M230 372h0M234.4 372h0M234 376h0M232 380h0M243.6 372.6h0M247.4 375.4h0M243.6 384h0M251.6 386h0M236 388.4h0M235 395.6h0M244 360.6h0M248 360.6h0M250 355.6h0M253 355h0M257 357h0M256 362h0M257.6 367h0M255 370h0M241 413h0M248 415h0M253 348h0M305 307h0M308 308h0M311 306h0M314 305h0M319 306h0M322 308h0M325 309h0M328 306h0M327 314h0M337 308h0M338 311h0M343 312h0M348 309h0M362 312.4h0M352.6 317.6h0M305 313h0M308 313.6h0M310 316h0M313 313h0M307 318h0M311.4 319h0M312 322h0M310 324h0M319 321h0M321 324h0M323 325h0M319 326h0M331.4 321h0M336.6 322h0M300 313h0M298 319h0M296 322h0M302 322h0M304 326h0M301 330h0M298 329h0M293 322h0M289 323h0M294 328h0M290 327h0M285 325h0M283 326h0M281 329h0M279 331h0M280.6 334h0M277 335h0M276 337h0M284.6 335h0M279 338.4h0M284 339h0M283 343h0M288 343h0M292 334h0M299 335.6h0M307 336h0M310 332h0M315 337h0M313 340h0M312 343h0M311 345h0M319 336h0M323 341h0M325 342h0M326 336h0M336.6 339h0M339 343h0M342 339h0M348 337.6h0M360 336h0M361.4 339h0M265 344h0M262 347h0M273 344h0M260 351h0M281.4 351.6h0M290 353.4h0M280.6 357h0M278.6 362h0M263 361h0M265 365h0M260 369h0M266.6 375h0M278.4 373.4h0M314.6 376.6h0M323 367h0M330 368h0M336.6 369.2h0M336.6 353.4h0M344 354.4h0M271 336h0M268 339h0M238 280h0M242 277h0M248 272h0M252.4 267.6h0M255.6 264h0M258 261h0M234 285.6h0M231.6 289h0M228 293h0M225.6 296.4h0M223.2 300h0M232.86 287.14h0M235 285h0M237.14 283.39h0M240.36 280.18h0M241.97 279.64h0M244.64 275.36h0M246.25 274.29h0M248.39 272.14h0M250 271.07h0M252.14 264.64h0M254.29 263.04h0M256.97 260.36h0M258.57 259.29h0M260.18 257.68h0M262.86 253.39h0M267.14 243.75h0M270.36 243.75h0M301.61 192.05h0M311.16 195.36h0" stroke="#0000ff" stroke-width="2.84" stroke-linecap="round" fill="none"/><path d="M371 259h0M374 261h0M377 262h0M380 261h0M382 266h0M378 268h0M380 269.6h0M377 267h0M385 273h0M376 284h0M374.6 292h0M389 258.6h0M403.6 261.6h0M412.8 258.6h0M390.6 267h0M396 278.6h0M402.4 281.8h0M150 310h0M130.4 326h0M368 332.6h0M372.6 328h0M378 328.4h0M377 336.4h0M387 310h0M388.4 310h0M414 307h0M403.4 320.8h0M430.8 322.8h0" stroke="#ff00ff" stroke-width="2.84" stroke-linecap="round" fill="none"/><path d="M136.5 255.3h0" stroke="#ff1010" stroke-width="2.6" stroke-linecap="round" fill="none"/><path d="M49.8 4.32V510.4H557.8M49.8 510.4v-4.6M49.8 510.4h4.6M113.3 510.4v-4.6M49.8 447.14h4.6M176.8 510.4v-4.6M49.8 383.88h4.6M240.3 510.4v-4.6M49.8 320.62h4.6M303.8 510.4v-4.6M49.8 257.36h4.6M367.3 510.4v-4.6M49.8 194.1h4.6M430.8 510.4v-4.6M49.8 130.84h4.6M494.3 510.4v-4.6M49.8 67.58h4.6M557.8 510.4v-4.6M49.8 4.32h4.6" stroke="#3a3a3a" stroke-width="1.3" fill="none"/><text x="50.1" y="525.6" font-size="10.5" fill="#505050" stroke="#505050" stroke-width="0.08" text-anchor="middle">0</text><text x="45" y="515.65" font-size="10.5" fill="#505050" stroke="#505050" stroke-width="0.08" text-anchor="end">0</text><text x="113.6" y="525.6" font-size="10.5" fill="#505050" stroke="#505050" stroke-width="0.08" text-anchor="middle">5</text><text x="45" y="452.39" font-size="10.5" fill="#505050" stroke="#505050" stroke-width="0.08" text-anchor="end">5</text><text x="177.1" y="525.6" font-size="10.5" fill="#505050" stroke="#505050" stroke-width="0.08" text-anchor="middle">10</text><text x="45" y="389.13" font-size="10.5" fill="#505050" stroke="#505050" stroke-width="0.08" text-anchor="end">10</text><text x="240.6" y="525.6" font-size="10.5" fill="#505050" stroke="#505050" stroke-width="0.08" text-anchor="middle">15</text><text x="45" y="325.87" font-size="10.5" fill="#505050" stroke="#505050" stroke-width="0.08" text-anchor="end">15</text><text x="304.1" y="525.6" font-size="10.5" fill="#505050" stroke="#505050" stroke-width="0.08" text-anchor="middle">20</text><text x="45" y="262.61" font-size="10.5" fill="#505050" stroke="#505050" stroke-width="0.08" text-anchor="end">20</text><text x="367.6" y="525.6" font-size="10.5" fill="#505050" stroke="#505050" stroke-width="0.08" text-anchor="middle">25</text><text x="45" y="199.35" font-size="10.5" fill="#505050" stroke="#505050" stroke-width="0.08" text-anchor="end">25</text><text x="431.1" y="525.6" font-size="10.5" fill="#505050" stroke="#505050" stroke-width="0.08" text-anchor="middle">30</text><text x="45" y="136.09" font-size="10.5" fill="#505050" stroke="#505050" stroke-width="0.08" text-anchor="end">30</text><text x="494.6" y="525.6" font-size="10.5" fill="#505050" stroke="#505050" stroke-width="0.08" text-anchor="middle">35</text><text x="45" y="72.83" font-size="10.5" fill="#505050" stroke="#505050" stroke-width="0.08" text-anchor="end">35</text><text x="558.1" y="525.6" font-size="10.5" fill="#505050" stroke="#505050" stroke-width="0.08" text-anchor="middle">40</text><text x="45" y="9.57" font-size="10.5" fill="#505050" stroke="#505050" stroke-width="0.08" text-anchor="end">40</text><text x="134.4" y="554.6" font-size="17.5" fill="#000" stroke="#000" stroke-width="0.3" textLength="369.5" lengthAdjust="spacingAndGlyphs">Reference RR from capnography (breath/min)</text><text transform="translate(17.3 384.2) rotate(-90)" x="0" y="0" font-size="17.5" fill="#000" stroke="#000" stroke-width="0.3" textLength="253.5" lengthAdjust="spacingAndGlyphs">RR from wearable (breath/min)</text><text x="93.5" y="36.5" font-size="16" fill="#ff0000" stroke="#ff0000" stroke-width="0.25" text-anchor="middle">E</text><text x="246.1" y="36.5" font-size="16" fill="#000" stroke="#000" stroke-width="0.25" text-anchor="middle">C</text><text x="411.2" y="36.5" font-size="16" fill="#0000ff" stroke="#0000ff" stroke-width="0.25" text-anchor="middle">B</text><text x="538.2" y="188.3" font-size="16" fill="#0000ff" stroke="#0000ff" stroke-width="0.25" text-anchor="middle">B</text><text x="93.5" y="328" font-size="16" fill="#ff00ff" stroke="#ff00ff" stroke-width="0.25" text-anchor="middle">D</text><text x="538.5" y="365.5" font-size="16" fill="#ff00ff" stroke="#ff00ff" stroke-width="0.25" text-anchor="middle">D</text><text x="93.5" y="493" font-size="16" fill="#00ee00" stroke="#00ee00" stroke-width="0.25" text-anchor="middle">A</text><text x="259.7" y="493" font-size="16" fill="#000" stroke="#000" stroke-width="0.25" text-anchor="middle">C</text><text x="538.1" y="493" font-size="16" fill="#ff0000" stroke="#ff0000" stroke-width="0.25" text-anchor="middle">E</text><text x="571.3" y="36.9" font-size="15.6" letter-spacing="0.38" fill="#00ee00" stroke="#00ee00" stroke-width="0.2">A: 89.7 %</text><text x="571.3" y="62.15" font-size="15.6" letter-spacing="0.38" fill="#0000ff" stroke="#0000ff" stroke-width="0.2">B: 9.62 %</text><text x="571.3" y="87.4" font-size="15.6" letter-spacing="0.38" fill="#000" stroke="#000" stroke-width="0.2">C: 0 %</text><text x="571.3" y="112.65" font-size="15.6" letter-spacing="0.38" fill="#ff00ff" stroke="#ff00ff" stroke-width="0.2">D: 0.66 %</text><text x="571.3" y="137.9" font-size="15.6" letter-spacing="0.38" fill="#ff0000" stroke="#ff0000" stroke-width="0.2">E: 0.02 %</text></svg></body></html>
